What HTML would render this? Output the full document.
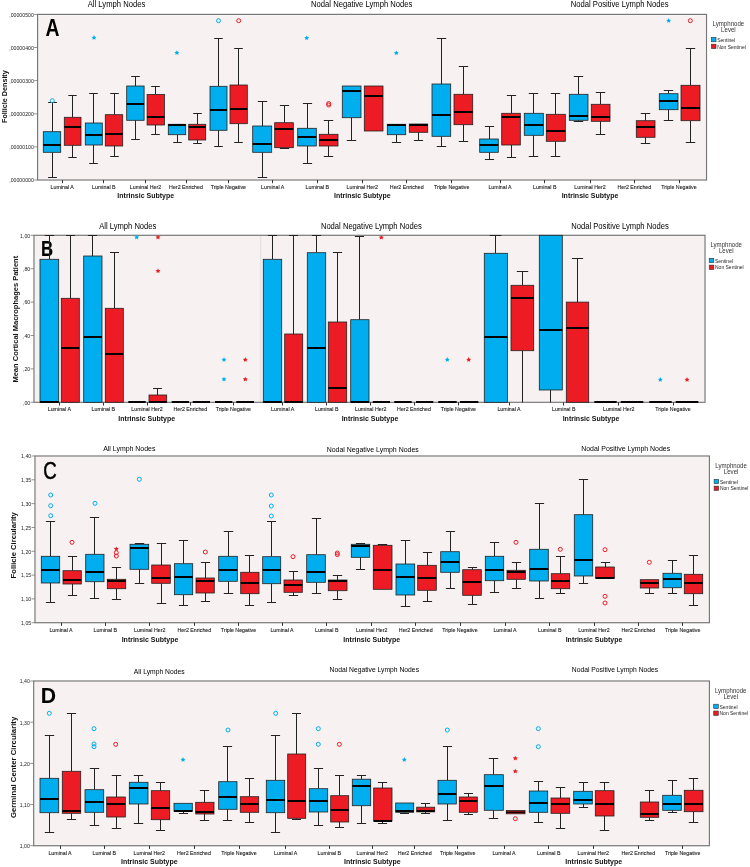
<!DOCTYPE html>
<html><head><meta charset="utf-8"><style>
html,body{margin:0;padding:0;background:#fff;}
svg{display:block;will-change:transform;font-family:"Liberation Sans",sans-serif;}
</style></head><body>
<svg width="750" height="867" viewBox="0 0 750 867">
<rect x="38.6" y="15.4" width="666.9" height="163.6" fill="#f7f1f1"/>
<text transform="translate(45.61,35.70) scale(0.824,1)" font-size="23.55" font-weight="bold" fill="#000" stroke="#000" stroke-width="0">A</text>
<rect x="37.6" y="14.4" width="668.9" height="165.6" fill="none" stroke="#777777" stroke-width="1.2"/>
<line x1="52.5" y1="102.5" x2="52.5" y2="131.7" stroke="#222222" stroke-width="1"/>
<line x1="48.1" y1="102.5" x2="56.9" y2="102.5" stroke="#222222" stroke-width="1"/>
<line x1="52.5" y1="152.3" x2="52.5" y2="177.5" stroke="#222222" stroke-width="1"/>
<line x1="48.1" y1="177.5" x2="56.9" y2="177.5" stroke="#222222" stroke-width="1"/>
<rect x="43.3" y="131.7" width="17.4" height="20.6" fill="#00aeef" stroke="#222222" stroke-width="0.8"/>
<line x1="43.3" y1="145.0" x2="60.7" y2="145.0" stroke="#000" stroke-width="2"/>
<line x1="72.5" y1="95.5" x2="72.5" y2="117.3" stroke="#222222" stroke-width="1"/>
<line x1="68.3" y1="95.5" x2="76.7" y2="95.5" stroke="#222222" stroke-width="1"/>
<line x1="72.5" y1="145.3" x2="72.5" y2="157.5" stroke="#222222" stroke-width="1"/>
<line x1="68.3" y1="157.5" x2="76.7" y2="157.5" stroke="#222222" stroke-width="1"/>
<rect x="64.3" y="117.3" width="16.7" height="28.0" fill="#ed1c24" stroke="#222222" stroke-width="0.8"/>
<line x1="64.3" y1="127.0" x2="81.0" y2="127.0" stroke="#000" stroke-width="2"/>
<line x1="93.5" y1="93.5" x2="93.5" y2="123.0" stroke="#222222" stroke-width="1"/>
<line x1="89.2" y1="93.5" x2="97.8" y2="93.5" stroke="#222222" stroke-width="1"/>
<line x1="93.5" y1="145.0" x2="93.5" y2="163.5" stroke="#222222" stroke-width="1"/>
<line x1="89.2" y1="163.5" x2="97.8" y2="163.5" stroke="#222222" stroke-width="1"/>
<rect x="85.3" y="123.0" width="17.0" height="22.0" fill="#00aeef" stroke="#222222" stroke-width="0.8"/>
<line x1="85.3" y1="135.0" x2="102.3" y2="135.0" stroke="#000" stroke-width="2"/>
<line x1="114.5" y1="93.5" x2="114.5" y2="114.7" stroke="#222222" stroke-width="1"/>
<line x1="110.2" y1="93.5" x2="118.8" y2="93.5" stroke="#222222" stroke-width="1"/>
<line x1="114.5" y1="146.0" x2="114.5" y2="156.5" stroke="#222222" stroke-width="1"/>
<line x1="110.2" y1="156.5" x2="118.8" y2="156.5" stroke="#222222" stroke-width="1"/>
<rect x="105.3" y="114.7" width="17.4" height="31.3" fill="#ed1c24" stroke="#222222" stroke-width="0.8"/>
<line x1="105.3" y1="134.0" x2="122.7" y2="134.0" stroke="#000" stroke-width="2"/>
<line x1="135.5" y1="76.5" x2="135.5" y2="86.0" stroke="#222222" stroke-width="1"/>
<line x1="131.2" y1="76.5" x2="139.8" y2="76.5" stroke="#222222" stroke-width="1"/>
<line x1="135.5" y1="120.3" x2="135.5" y2="139.5" stroke="#222222" stroke-width="1"/>
<line x1="131.2" y1="139.5" x2="139.8" y2="139.5" stroke="#222222" stroke-width="1"/>
<rect x="126.7" y="86.0" width="17.4" height="34.3" fill="#00aeef" stroke="#222222" stroke-width="0.8"/>
<line x1="126.7" y1="104.0" x2="144.1" y2="104.0" stroke="#000" stroke-width="2"/>
<line x1="155.5" y1="86.5" x2="155.5" y2="94.4" stroke="#222222" stroke-width="1"/>
<line x1="151.2" y1="86.5" x2="159.8" y2="86.5" stroke="#222222" stroke-width="1"/>
<line x1="155.5" y1="125.0" x2="155.5" y2="134.5" stroke="#222222" stroke-width="1"/>
<line x1="151.2" y1="134.5" x2="159.8" y2="134.5" stroke="#222222" stroke-width="1"/>
<rect x="147.1" y="94.4" width="17.3" height="30.6" fill="#ed1c24" stroke="#222222" stroke-width="0.8"/>
<line x1="147.1" y1="117.0" x2="164.4" y2="117.0" stroke="#000" stroke-width="2"/>
<line x1="177.5" y1="134.7" x2="177.5" y2="142.5" stroke="#222222" stroke-width="1"/>
<line x1="173.2" y1="142.5" x2="181.8" y2="142.5" stroke="#222222" stroke-width="1"/>
<rect x="168.3" y="124.3" width="17.4" height="10.4" fill="#00aeef" stroke="#222222" stroke-width="0.8"/>
<line x1="168.3" y1="125.0" x2="185.7" y2="125.0" stroke="#000" stroke-width="2"/>
<line x1="197.5" y1="113.5" x2="197.5" y2="124.3" stroke="#222222" stroke-width="1"/>
<line x1="193.2" y1="113.5" x2="201.8" y2="113.5" stroke="#222222" stroke-width="1"/>
<line x1="197.5" y1="140.0" x2="197.5" y2="143.5" stroke="#222222" stroke-width="1"/>
<line x1="193.2" y1="143.5" x2="201.8" y2="143.5" stroke="#222222" stroke-width="1"/>
<rect x="188.7" y="124.3" width="17.0" height="15.7" fill="#ed1c24" stroke="#222222" stroke-width="0.8"/>
<line x1="188.7" y1="127.0" x2="205.7" y2="127.0" stroke="#000" stroke-width="2"/>
<line x1="218.5" y1="38.5" x2="218.5" y2="86.3" stroke="#222222" stroke-width="1"/>
<line x1="214.2" y1="38.5" x2="222.8" y2="38.5" stroke="#222222" stroke-width="1"/>
<line x1="218.5" y1="130.3" x2="218.5" y2="146.5" stroke="#222222" stroke-width="1"/>
<line x1="214.2" y1="146.5" x2="222.8" y2="146.5" stroke="#222222" stroke-width="1"/>
<rect x="210.0" y="86.3" width="17.0" height="44.0" fill="#00aeef" stroke="#222222" stroke-width="0.8"/>
<line x1="210.0" y1="110.0" x2="227.0" y2="110.0" stroke="#000" stroke-width="2"/>
<line x1="238.5" y1="48.5" x2="238.5" y2="85.0" stroke="#222222" stroke-width="1"/>
<line x1="234.2" y1="48.5" x2="242.8" y2="48.5" stroke="#222222" stroke-width="1"/>
<line x1="238.5" y1="123.7" x2="238.5" y2="142.5" stroke="#222222" stroke-width="1"/>
<line x1="234.2" y1="142.5" x2="242.8" y2="142.5" stroke="#222222" stroke-width="1"/>
<rect x="230.0" y="85.0" width="17.3" height="38.7" fill="#ed1c24" stroke="#222222" stroke-width="0.8"/>
<line x1="230.0" y1="109.0" x2="247.3" y2="109.0" stroke="#000" stroke-width="2"/>
<line x1="262.5" y1="101.5" x2="262.5" y2="126.0" stroke="#222222" stroke-width="1"/>
<line x1="257.8" y1="101.5" x2="267.2" y2="101.5" stroke="#222222" stroke-width="1"/>
<line x1="262.5" y1="152.3" x2="262.5" y2="177.5" stroke="#222222" stroke-width="1"/>
<line x1="257.8" y1="177.5" x2="267.2" y2="177.5" stroke="#222222" stroke-width="1"/>
<rect x="252.7" y="126.0" width="19.0" height="26.3" fill="#00aeef" stroke="#222222" stroke-width="0.8"/>
<line x1="252.7" y1="144.0" x2="271.7" y2="144.0" stroke="#000" stroke-width="2"/>
<line x1="284.5" y1="105.5" x2="284.5" y2="122.7" stroke="#222222" stroke-width="1"/>
<line x1="279.9" y1="105.5" x2="289.1" y2="105.5" stroke="#222222" stroke-width="1"/>
<line x1="284.5" y1="147.7" x2="284.5" y2="148.5" stroke="#222222" stroke-width="1"/>
<line x1="279.9" y1="148.5" x2="289.1" y2="148.5" stroke="#222222" stroke-width="1"/>
<rect x="274.7" y="122.7" width="18.6" height="25.0" fill="#ed1c24" stroke="#222222" stroke-width="0.8"/>
<line x1="274.7" y1="129.0" x2="293.3" y2="129.0" stroke="#000" stroke-width="2"/>
<line x1="307.5" y1="103.5" x2="307.5" y2="128.3" stroke="#222222" stroke-width="1"/>
<line x1="302.9" y1="103.5" x2="312.1" y2="103.5" stroke="#222222" stroke-width="1"/>
<line x1="307.5" y1="146.0" x2="307.5" y2="163.5" stroke="#222222" stroke-width="1"/>
<line x1="302.9" y1="163.5" x2="312.1" y2="163.5" stroke="#222222" stroke-width="1"/>
<rect x="297.7" y="128.3" width="18.6" height="17.7" fill="#00aeef" stroke="#222222" stroke-width="0.8"/>
<line x1="297.7" y1="137.0" x2="316.3" y2="137.0" stroke="#000" stroke-width="2"/>
<line x1="328.5" y1="120.5" x2="328.5" y2="134.3" stroke="#222222" stroke-width="1"/>
<line x1="323.8" y1="120.5" x2="333.2" y2="120.5" stroke="#222222" stroke-width="1"/>
<line x1="328.5" y1="146.0" x2="328.5" y2="156.5" stroke="#222222" stroke-width="1"/>
<line x1="323.8" y1="156.5" x2="333.2" y2="156.5" stroke="#222222" stroke-width="1"/>
<rect x="319.3" y="134.3" width="18.7" height="11.7" fill="#ed1c24" stroke="#222222" stroke-width="0.8"/>
<line x1="319.3" y1="140.0" x2="338.0" y2="140.0" stroke="#000" stroke-width="2"/>
<line x1="351.5" y1="117.7" x2="351.5" y2="140.5" stroke="#222222" stroke-width="1"/>
<line x1="346.8" y1="140.5" x2="356.2" y2="140.5" stroke="#222222" stroke-width="1"/>
<rect x="342.3" y="86.0" width="18.7" height="31.7" fill="#00aeef" stroke="#222222" stroke-width="0.8"/>
<line x1="342.3" y1="91.0" x2="361.0" y2="91.0" stroke="#000" stroke-width="2"/>
<rect x="364.3" y="86.0" width="18.7" height="45.0" fill="#ed1c24" stroke="#222222" stroke-width="0.8"/>
<line x1="364.3" y1="96.0" x2="383.0" y2="96.0" stroke="#000" stroke-width="2"/>
<line x1="396.5" y1="134.7" x2="396.5" y2="142.5" stroke="#222222" stroke-width="1"/>
<line x1="391.9" y1="142.5" x2="401.1" y2="142.5" stroke="#222222" stroke-width="1"/>
<rect x="387.3" y="124.3" width="18.4" height="10.4" fill="#00aeef" stroke="#222222" stroke-width="0.8"/>
<line x1="387.3" y1="125.0" x2="405.7" y2="125.0" stroke="#000" stroke-width="2"/>
<line x1="418.5" y1="132.3" x2="418.5" y2="140.5" stroke="#222222" stroke-width="1"/>
<line x1="413.9" y1="140.5" x2="423.1" y2="140.5" stroke="#222222" stroke-width="1"/>
<rect x="409.3" y="124.0" width="18.4" height="8.3" fill="#ed1c24" stroke="#222222" stroke-width="0.8"/>
<line x1="409.3" y1="125.0" x2="427.7" y2="125.0" stroke="#000" stroke-width="2"/>
<line x1="441.5" y1="38.5" x2="441.5" y2="84.0" stroke="#222222" stroke-width="1"/>
<line x1="436.8" y1="38.5" x2="446.2" y2="38.5" stroke="#222222" stroke-width="1"/>
<line x1="441.5" y1="136.3" x2="441.5" y2="146.5" stroke="#222222" stroke-width="1"/>
<line x1="436.8" y1="146.5" x2="446.2" y2="146.5" stroke="#222222" stroke-width="1"/>
<rect x="432.0" y="84.0" width="18.7" height="52.3" fill="#00aeef" stroke="#222222" stroke-width="0.8"/>
<line x1="432.0" y1="115.0" x2="450.7" y2="115.0" stroke="#000" stroke-width="2"/>
<line x1="463.5" y1="66.5" x2="463.5" y2="94.3" stroke="#222222" stroke-width="1"/>
<line x1="458.8" y1="66.5" x2="468.2" y2="66.5" stroke="#222222" stroke-width="1"/>
<line x1="463.5" y1="124.7" x2="463.5" y2="141.5" stroke="#222222" stroke-width="1"/>
<line x1="458.8" y1="141.5" x2="468.2" y2="141.5" stroke="#222222" stroke-width="1"/>
<rect x="454.0" y="94.3" width="18.7" height="30.4" fill="#ed1c24" stroke="#222222" stroke-width="0.8"/>
<line x1="454.0" y1="112.0" x2="472.7" y2="112.0" stroke="#000" stroke-width="2"/>
<line x1="489.5" y1="126.5" x2="489.5" y2="139.0" stroke="#222222" stroke-width="1"/>
<line x1="484.9" y1="126.5" x2="494.1" y2="126.5" stroke="#222222" stroke-width="1"/>
<line x1="489.5" y1="152.3" x2="489.5" y2="159.5" stroke="#222222" stroke-width="1"/>
<line x1="484.9" y1="159.5" x2="494.1" y2="159.5" stroke="#222222" stroke-width="1"/>
<rect x="479.7" y="139.0" width="18.6" height="13.3" fill="#00aeef" stroke="#222222" stroke-width="0.8"/>
<line x1="479.7" y1="145.0" x2="498.3" y2="145.0" stroke="#000" stroke-width="2"/>
<line x1="511.5" y1="95.5" x2="511.5" y2="113.3" stroke="#222222" stroke-width="1"/>
<line x1="506.9" y1="95.5" x2="516.1" y2="95.5" stroke="#222222" stroke-width="1"/>
<line x1="511.5" y1="145.0" x2="511.5" y2="157.5" stroke="#222222" stroke-width="1"/>
<line x1="506.9" y1="157.5" x2="516.1" y2="157.5" stroke="#222222" stroke-width="1"/>
<rect x="501.7" y="113.3" width="18.6" height="31.7" fill="#ed1c24" stroke="#222222" stroke-width="0.8"/>
<line x1="501.7" y1="117.0" x2="520.3" y2="117.0" stroke="#000" stroke-width="2"/>
<line x1="533.5" y1="93.5" x2="533.5" y2="113.3" stroke="#222222" stroke-width="1"/>
<line x1="528.8" y1="93.5" x2="538.2" y2="93.5" stroke="#222222" stroke-width="1"/>
<line x1="533.5" y1="135.3" x2="533.5" y2="156.5" stroke="#222222" stroke-width="1"/>
<line x1="528.8" y1="156.5" x2="538.2" y2="156.5" stroke="#222222" stroke-width="1"/>
<rect x="524.3" y="113.3" width="19.0" height="22.0" fill="#00aeef" stroke="#222222" stroke-width="0.8"/>
<line x1="524.3" y1="125.0" x2="543.3" y2="125.0" stroke="#000" stroke-width="2"/>
<line x1="555.5" y1="93.5" x2="555.5" y2="114.3" stroke="#222222" stroke-width="1"/>
<line x1="550.8" y1="93.5" x2="560.2" y2="93.5" stroke="#222222" stroke-width="1"/>
<line x1="555.5" y1="141.3" x2="555.5" y2="156.5" stroke="#222222" stroke-width="1"/>
<line x1="550.8" y1="156.5" x2="560.2" y2="156.5" stroke="#222222" stroke-width="1"/>
<rect x="546.3" y="114.3" width="19.0" height="27.0" fill="#ed1c24" stroke="#222222" stroke-width="0.8"/>
<line x1="546.3" y1="131.0" x2="565.3" y2="131.0" stroke="#000" stroke-width="2"/>
<line x1="578.5" y1="76.5" x2="578.5" y2="94.3" stroke="#222222" stroke-width="1"/>
<line x1="573.8" y1="76.5" x2="583.2" y2="76.5" stroke="#222222" stroke-width="1"/>
<line x1="578.5" y1="120.3" x2="578.5" y2="121.5" stroke="#222222" stroke-width="1"/>
<line x1="573.8" y1="121.5" x2="583.2" y2="121.5" stroke="#222222" stroke-width="1"/>
<rect x="569.3" y="94.3" width="18.7" height="26.0" fill="#00aeef" stroke="#222222" stroke-width="0.8"/>
<line x1="569.3" y1="116.0" x2="588.0" y2="116.0" stroke="#000" stroke-width="2"/>
<line x1="600.5" y1="92.5" x2="600.5" y2="104.3" stroke="#222222" stroke-width="1"/>
<line x1="595.8" y1="92.5" x2="605.2" y2="92.5" stroke="#222222" stroke-width="1"/>
<line x1="600.5" y1="121.3" x2="600.5" y2="134.5" stroke="#222222" stroke-width="1"/>
<line x1="595.8" y1="134.5" x2="605.2" y2="134.5" stroke="#222222" stroke-width="1"/>
<rect x="591.3" y="104.3" width="18.7" height="17.0" fill="#ed1c24" stroke="#222222" stroke-width="0.8"/>
<line x1="591.3" y1="117.0" x2="610.0" y2="117.0" stroke="#000" stroke-width="2"/>
<line x1="645.5" y1="113.5" x2="645.5" y2="120.7" stroke="#222222" stroke-width="1"/>
<line x1="640.8" y1="113.5" x2="650.2" y2="113.5" stroke="#222222" stroke-width="1"/>
<line x1="645.5" y1="137.3" x2="645.5" y2="143.5" stroke="#222222" stroke-width="1"/>
<line x1="640.8" y1="143.5" x2="650.2" y2="143.5" stroke="#222222" stroke-width="1"/>
<rect x="636.3" y="120.7" width="18.7" height="16.6" fill="#ed1c24" stroke="#222222" stroke-width="0.8"/>
<line x1="636.3" y1="127.0" x2="655.0" y2="127.0" stroke="#000" stroke-width="2"/>
<line x1="668.5" y1="90.5" x2="668.5" y2="93.7" stroke="#222222" stroke-width="1"/>
<line x1="663.8" y1="90.5" x2="673.2" y2="90.5" stroke="#222222" stroke-width="1"/>
<line x1="668.5" y1="109.7" x2="668.5" y2="120.5" stroke="#222222" stroke-width="1"/>
<line x1="663.8" y1="120.5" x2="673.2" y2="120.5" stroke="#222222" stroke-width="1"/>
<rect x="659.3" y="93.7" width="18.7" height="16.0" fill="#00aeef" stroke="#222222" stroke-width="0.8"/>
<line x1="659.3" y1="101.0" x2="678.0" y2="101.0" stroke="#000" stroke-width="2"/>
<line x1="690.5" y1="48.5" x2="690.5" y2="85.3" stroke="#222222" stroke-width="1"/>
<line x1="685.8" y1="48.5" x2="695.2" y2="48.5" stroke="#222222" stroke-width="1"/>
<line x1="690.5" y1="120.7" x2="690.5" y2="142.5" stroke="#222222" stroke-width="1"/>
<line x1="685.8" y1="142.5" x2="695.2" y2="142.5" stroke="#222222" stroke-width="1"/>
<rect x="681.0" y="85.3" width="19.0" height="35.4" fill="#ed1c24" stroke="#222222" stroke-width="0.8"/>
<line x1="681.0" y1="108.0" x2="700.0" y2="108.0" stroke="#000" stroke-width="2"/>
<circle cx="52.3" cy="100.7" r="2.0" fill="none" stroke="#00aeef" stroke-width="1"/>
<polygon points="94.00,35.10 94.76,36.65 96.47,36.90 95.24,38.10 95.53,39.80 94.00,39.00 92.47,39.80 92.76,38.10 91.53,36.90 93.24,36.65" fill="#00aeef"/>
<polygon points="176.90,50.20 177.66,51.75 179.37,52.00 178.14,53.20 178.43,54.90 176.90,54.10 175.37,54.90 175.66,53.20 174.43,52.00 176.14,51.75" fill="#00aeef"/>
<circle cx="218.5" cy="20.7" r="2.0" fill="none" stroke="#00aeef" stroke-width="1"/>
<circle cx="238.7" cy="20.7" r="2.0" fill="none" stroke="#ed1c24" stroke-width="1"/>
<polygon points="306.70,35.40 307.46,36.95 309.17,37.20 307.94,38.40 308.23,40.10 306.70,39.30 305.17,40.10 305.46,38.40 304.23,37.20 305.94,36.95" fill="#00aeef"/>
<circle cx="328.7" cy="103.5" r="2.0" fill="none" stroke="#ed1c24" stroke-width="1"/>
<circle cx="328.7" cy="105.0" r="2.0" fill="none" stroke="#ed1c24" stroke-width="1"/>
<polygon points="396.30,50.40 397.06,51.95 398.77,52.20 397.54,53.40 397.83,55.10 396.30,54.30 394.77,55.10 395.06,53.40 393.83,52.20 395.54,51.95" fill="#00aeef"/>
<polygon points="668.70,18.10 669.46,19.65 671.17,19.90 669.94,21.10 670.23,22.80 668.70,22.00 667.17,22.80 667.46,21.10 666.23,19.90 667.94,19.65" fill="#00aeef"/>
<circle cx="690.3" cy="20.7" r="2.0" fill="none" stroke="#ed1c24" stroke-width="1"/>
<line x1="34.1" y1="14.4" x2="37.6" y2="14.4" stroke="#777777" stroke-width="0.8"/>
<text transform="translate(33.80,16.70) scale(1,1.12)" font-size="5.2" text-anchor="end" font-weight="normal" fill="#222" >,00000500</text>
<line x1="34.1" y1="47.5" x2="37.6" y2="47.5" stroke="#777777" stroke-width="0.8"/>
<text transform="translate(33.80,49.80) scale(1,1.12)" font-size="5.2" text-anchor="end" font-weight="normal" fill="#222" >,00000400</text>
<line x1="34.1" y1="80.6" x2="37.6" y2="80.6" stroke="#777777" stroke-width="0.8"/>
<text transform="translate(33.80,82.90) scale(1,1.12)" font-size="5.2" text-anchor="end" font-weight="normal" fill="#222" >,00000300</text>
<line x1="34.1" y1="113.8" x2="37.6" y2="113.8" stroke="#777777" stroke-width="0.8"/>
<text transform="translate(33.80,116.10) scale(1,1.12)" font-size="5.2" text-anchor="end" font-weight="normal" fill="#222" >,00000200</text>
<line x1="34.1" y1="146.9" x2="37.6" y2="146.9" stroke="#777777" stroke-width="0.8"/>
<text transform="translate(33.80,149.20) scale(1,1.12)" font-size="5.2" text-anchor="end" font-weight="normal" fill="#222" >,00000100</text>
<line x1="34.1" y1="180.0" x2="37.6" y2="180.0" stroke="#777777" stroke-width="0.8"/>
<text transform="translate(33.80,182.30) scale(1,1.12)" font-size="5.2" text-anchor="end" font-weight="normal" fill="#222" >,00000000</text>
<line x1="62.5" y1="180.0" x2="62.5" y2="183.2" stroke="#333" stroke-width="1"/>
<text transform="translate(62.20,189.00) scale(1,1.12)" font-size="5.3" text-anchor="middle" font-weight="normal" fill="#1a1a1a" stroke="#1a1a1a" stroke-width="0.1">Luminal A</text>
<line x1="103.5" y1="180.0" x2="103.5" y2="183.2" stroke="#333" stroke-width="1"/>
<text transform="translate(103.80,189.00) scale(1,1.12)" font-size="5.3" text-anchor="middle" font-weight="normal" fill="#1a1a1a" stroke="#1a1a1a" stroke-width="0.1">Luminal B</text>
<line x1="145.5" y1="180.0" x2="145.5" y2="183.2" stroke="#333" stroke-width="1"/>
<text transform="translate(145.50,189.00) scale(1,1.12)" font-size="5.3" text-anchor="middle" font-weight="normal" fill="#1a1a1a" stroke="#1a1a1a" stroke-width="0.1">Luminal Her2</text>
<line x1="186.5" y1="180.0" x2="186.5" y2="183.2" stroke="#333" stroke-width="1"/>
<text transform="translate(186.00,189.00) scale(1,1.12)" font-size="5.3" text-anchor="middle" font-weight="normal" fill="#1a1a1a" stroke="#1a1a1a" stroke-width="0.1">Her2 Enriched</text>
<line x1="228.5" y1="180.0" x2="228.5" y2="183.2" stroke="#333" stroke-width="1"/>
<text transform="translate(228.30,189.00) scale(1,1.12)" font-size="5.3" text-anchor="middle" font-weight="normal" fill="#1a1a1a" stroke="#1a1a1a" stroke-width="0.1">Triple Negative</text>
<line x1="272.5" y1="180.0" x2="272.5" y2="183.2" stroke="#333" stroke-width="1"/>
<text transform="translate(272.70,189.00) scale(1,1.12)" font-size="5.3" text-anchor="middle" font-weight="normal" fill="#1a1a1a" stroke="#1a1a1a" stroke-width="0.1">Luminal A</text>
<line x1="317.5" y1="180.0" x2="317.5" y2="183.2" stroke="#333" stroke-width="1"/>
<text transform="translate(317.30,189.00) scale(1,1.12)" font-size="5.3" text-anchor="middle" font-weight="normal" fill="#1a1a1a" stroke="#1a1a1a" stroke-width="0.1">Luminal B</text>
<line x1="362.5" y1="180.0" x2="362.5" y2="183.2" stroke="#333" stroke-width="1"/>
<text transform="translate(362.30,189.00) scale(1,1.12)" font-size="5.3" text-anchor="middle" font-weight="normal" fill="#1a1a1a" stroke="#1a1a1a" stroke-width="0.1">Luminal Her2</text>
<line x1="406.5" y1="180.0" x2="406.5" y2="183.2" stroke="#333" stroke-width="1"/>
<text transform="translate(406.70,189.00) scale(1,1.12)" font-size="5.3" text-anchor="middle" font-weight="normal" fill="#1a1a1a" stroke="#1a1a1a" stroke-width="0.1">Her2 Enriched</text>
<line x1="451.5" y1="180.0" x2="451.5" y2="183.2" stroke="#333" stroke-width="1"/>
<text transform="translate(451.70,189.00) scale(1,1.12)" font-size="5.3" text-anchor="middle" font-weight="normal" fill="#1a1a1a" stroke="#1a1a1a" stroke-width="0.1">Triple Negative</text>
<line x1="500.5" y1="180.0" x2="500.5" y2="183.2" stroke="#333" stroke-width="1"/>
<text transform="translate(500.00,189.00) scale(1,1.12)" font-size="5.3" text-anchor="middle" font-weight="normal" fill="#1a1a1a" stroke="#1a1a1a" stroke-width="0.1">Luminal A</text>
<line x1="544.5" y1="180.0" x2="544.5" y2="183.2" stroke="#333" stroke-width="1"/>
<text transform="translate(544.70,189.00) scale(1,1.12)" font-size="5.3" text-anchor="middle" font-weight="normal" fill="#1a1a1a" stroke="#1a1a1a" stroke-width="0.1">Luminal B</text>
<line x1="590.5" y1="180.0" x2="590.5" y2="183.2" stroke="#333" stroke-width="1"/>
<text transform="translate(590.00,189.00) scale(1,1.12)" font-size="5.3" text-anchor="middle" font-weight="normal" fill="#1a1a1a" stroke="#1a1a1a" stroke-width="0.1">Luminal Her2</text>
<line x1="634.5" y1="180.0" x2="634.5" y2="183.2" stroke="#333" stroke-width="1"/>
<text transform="translate(634.30,189.00) scale(1,1.12)" font-size="5.3" text-anchor="middle" font-weight="normal" fill="#1a1a1a" stroke="#1a1a1a" stroke-width="0.1">Her2 Enriched</text>
<line x1="679.5" y1="180.0" x2="679.5" y2="183.2" stroke="#333" stroke-width="1"/>
<text transform="translate(679.00,189.00) scale(1,1.12)" font-size="5.3" text-anchor="middle" font-weight="normal" fill="#1a1a1a" stroke="#1a1a1a" stroke-width="0.1">Triple Negative</text>
<text transform="translate(145.70,198.00) scale(1,1.1)" font-size="7.0" text-anchor="middle" font-weight="bold" fill="#111" >Intrinsic Subtype</text>
<text transform="translate(362.30,198.00) scale(1,1.1)" font-size="7.0" text-anchor="middle" font-weight="bold" fill="#111" >Intrinsic Subtype</text>
<text transform="translate(590.00,198.00) scale(1,1.1)" font-size="7.0" text-anchor="middle" font-weight="bold" fill="#111" >Intrinsic Subtype</text>
<text transform="translate(116.50,7.40) scale(1,1.12)" font-size="7.66" text-anchor="middle" font-weight="normal" fill="#000" >All Lymph Nodes</text>
<text transform="translate(361.70,7.20) scale(1,1.12)" font-size="7.66" text-anchor="middle" font-weight="normal" fill="#000" >Nodal Negative Lymph Nodes</text>
<text transform="translate(619.70,7.20) scale(1,1.12)" font-size="7.66" text-anchor="middle" font-weight="normal" fill="#000" >Nodal Positive Lymph Nodes</text>
<text x="0" y="0" font-size="7.2" font-weight="bold" text-anchor="middle" fill="#111" transform="translate(6.9,96.6) rotate(-90)">Follicle Density</text>
<text transform="translate(728.40,26.20) scale(1,1.15)" font-size="6.1" text-anchor="middle" font-weight="normal" fill="#333" >Lymphnode</text>
<text transform="translate(728.40,32.20) scale(1,1.15)" font-size="6.1" text-anchor="middle" font-weight="normal" fill="#333" >Level</text>
<rect x="711.4" y="37.4" width="4.6" height="4.4" fill="#00aeef" stroke="#333" stroke-width="0.6"/>
<rect x="711.4" y="44.2" width="4.6" height="4.4" fill="#ed1c24" stroke="#333" stroke-width="0.6"/>
<text transform="translate(717.20,41.90) scale(1,1.12)" font-size="5.0" text-anchor="start" font-weight="normal" fill="#222" >Sentinel</text>
<text transform="translate(717.20,48.50) scale(1,1.12)" font-size="5.0" text-anchor="start" font-weight="normal" fill="#222" >Non Sentinel</text>
<rect x="35" y="236.3" width="669" height="165.0" fill="#f7f1f1"/>
<line x1="260.7" y1="235.3" x2="260.7" y2="402.3" stroke="#d8d0d0" stroke-width="0.6"/>
<text transform="translate(41.07,256.00) scale(0.766,1)" font-size="22.09" font-weight="bold" fill="#000" stroke="#000" stroke-width="0">B</text>
<rect x="34" y="235.3" width="671" height="167.0" fill="none" stroke="#777777" stroke-width="1.2"/>
<line x1="49.5" y1="235.5" x2="49.5" y2="259.3" stroke="#222222" stroke-width="1"/>
<line x1="44.8" y1="235.5" x2="54.2" y2="235.5" stroke="#222222" stroke-width="1"/>
<rect x="40.0" y="259.3" width="18.7" height="143.0" fill="#00aeef" stroke="#222222" stroke-width="0.8"/>
<line x1="40.0" y1="402.0" x2="58.7" y2="402.0" stroke="#000" stroke-width="2"/>
<line x1="70.5" y1="235.5" x2="70.5" y2="298.3" stroke="#222222" stroke-width="1"/>
<line x1="66.0" y1="235.5" x2="75.0" y2="235.5" stroke="#222222" stroke-width="1"/>
<rect x="61.3" y="298.3" width="18.0" height="104.0" fill="#ed1c24" stroke="#222222" stroke-width="0.8"/>
<line x1="61.3" y1="348.0" x2="79.3" y2="348.0" stroke="#000" stroke-width="2"/>
<line x1="92.5" y1="235.5" x2="92.5" y2="256.0" stroke="#222222" stroke-width="1"/>
<line x1="87.9" y1="235.5" x2="97.1" y2="235.5" stroke="#222222" stroke-width="1"/>
<rect x="83.7" y="256.0" width="18.3" height="146.3" fill="#00aeef" stroke="#222222" stroke-width="0.8"/>
<line x1="83.7" y1="337.0" x2="102.0" y2="337.0" stroke="#000" stroke-width="2"/>
<line x1="114.5" y1="252.5" x2="114.5" y2="308.3" stroke="#222222" stroke-width="1"/>
<line x1="110.0" y1="252.5" x2="119.0" y2="252.5" stroke="#222222" stroke-width="1"/>
<rect x="105.3" y="308.3" width="18.0" height="94.0" fill="#ed1c24" stroke="#222222" stroke-width="0.8"/>
<line x1="105.3" y1="354.0" x2="123.3" y2="354.0" stroke="#000" stroke-width="2"/>
<line x1="128.3" y1="402.0" x2="145.7" y2="402.0" stroke="#000" stroke-width="2"/>
<line x1="157.5" y1="388.5" x2="157.5" y2="395.0" stroke="#222222" stroke-width="1"/>
<line x1="153.1" y1="388.5" x2="161.9" y2="388.5" stroke="#222222" stroke-width="1"/>
<rect x="149.0" y="395.0" width="17.7" height="7.3" fill="#ed1c24" stroke="#222222" stroke-width="0.8"/>
<line x1="149.0" y1="402.0" x2="166.7" y2="402.0" stroke="#000" stroke-width="2"/>
<line x1="171.7" y1="402.0" x2="189.0" y2="402.0" stroke="#000" stroke-width="2"/>
<line x1="192.7" y1="402.0" x2="210.0" y2="402.0" stroke="#000" stroke-width="2"/>
<line x1="215.0" y1="402.0" x2="232.3" y2="402.0" stroke="#000" stroke-width="2"/>
<line x1="236.3" y1="402.0" x2="254.0" y2="402.0" stroke="#000" stroke-width="2"/>
<line x1="272.5" y1="235.5" x2="272.5" y2="259.3" stroke="#222222" stroke-width="1"/>
<line x1="267.9" y1="235.5" x2="277.1" y2="235.5" stroke="#222222" stroke-width="1"/>
<rect x="263.3" y="259.3" width="18.4" height="143.0" fill="#00aeef" stroke="#222222" stroke-width="0.8"/>
<line x1="263.3" y1="402.0" x2="281.7" y2="402.0" stroke="#000" stroke-width="2"/>
<line x1="293.5" y1="235.5" x2="293.5" y2="334.0" stroke="#222222" stroke-width="1"/>
<line x1="289.0" y1="235.5" x2="298.0" y2="235.5" stroke="#222222" stroke-width="1"/>
<rect x="284.7" y="334.0" width="18.0" height="68.3" fill="#ed1c24" stroke="#222222" stroke-width="0.8"/>
<line x1="284.7" y1="402.0" x2="302.7" y2="402.0" stroke="#000" stroke-width="2"/>
<line x1="316.5" y1="235.5" x2="316.5" y2="252.7" stroke="#222222" stroke-width="1"/>
<line x1="311.9" y1="235.5" x2="321.1" y2="235.5" stroke="#222222" stroke-width="1"/>
<rect x="307.3" y="252.7" width="18.4" height="149.6" fill="#00aeef" stroke="#222222" stroke-width="0.8"/>
<line x1="307.3" y1="348.0" x2="325.7" y2="348.0" stroke="#000" stroke-width="2"/>
<line x1="337.5" y1="252.5" x2="337.5" y2="322.0" stroke="#222222" stroke-width="1"/>
<line x1="332.9" y1="252.5" x2="342.1" y2="252.5" stroke="#222222" stroke-width="1"/>
<rect x="328.3" y="322.0" width="18.4" height="80.3" fill="#ed1c24" stroke="#222222" stroke-width="0.8"/>
<line x1="328.3" y1="388.0" x2="346.7" y2="388.0" stroke="#000" stroke-width="2"/>
<line x1="359.5" y1="236.5" x2="359.5" y2="319.7" stroke="#222222" stroke-width="1"/>
<line x1="354.9" y1="236.5" x2="364.1" y2="236.5" stroke="#222222" stroke-width="1"/>
<rect x="350.7" y="319.7" width="18.3" height="82.6" fill="#00aeef" stroke="#222222" stroke-width="0.8"/>
<line x1="350.7" y1="402.0" x2="369.0" y2="402.0" stroke="#000" stroke-width="2"/>
<line x1="372.7" y1="402.0" x2="390.0" y2="402.0" stroke="#000" stroke-width="2"/>
<line x1="394.3" y1="402.0" x2="411.7" y2="402.0" stroke="#000" stroke-width="2"/>
<line x1="416.0" y1="402.0" x2="433.3" y2="402.0" stroke="#000" stroke-width="2"/>
<line x1="438.3" y1="402.0" x2="456.7" y2="402.0" stroke="#000" stroke-width="2"/>
<line x1="460.0" y1="402.0" x2="478.3" y2="402.0" stroke="#000" stroke-width="2"/>
<line x1="495.5" y1="235.5" x2="495.5" y2="253.3" stroke="#222222" stroke-width="1"/>
<line x1="489.7" y1="235.5" x2="501.3" y2="235.5" stroke="#222222" stroke-width="1"/>
<rect x="484.3" y="253.3" width="23.2" height="149.0" fill="#00aeef" stroke="#222222" stroke-width="0.8"/>
<line x1="484.3" y1="337.0" x2="507.5" y2="337.0" stroke="#000" stroke-width="2"/>
<line x1="522.5" y1="271.5" x2="522.5" y2="285.3" stroke="#222222" stroke-width="1"/>
<line x1="516.8" y1="271.5" x2="528.2" y2="271.5" stroke="#222222" stroke-width="1"/>
<line x1="522.5" y1="350.7" x2="522.5" y2="402.5" stroke="#222222" stroke-width="1"/>
<rect x="511.0" y="285.3" width="22.7" height="65.4" fill="#ed1c24" stroke="#222222" stroke-width="0.8"/>
<line x1="511.0" y1="298.0" x2="533.7" y2="298.0" stroke="#000" stroke-width="2"/>
<line x1="550.5" y1="390.0" x2="550.5" y2="402.5" stroke="#222222" stroke-width="1"/>
<rect x="539.3" y="235.3" width="23.0" height="154.7" fill="#00aeef" stroke="#222222" stroke-width="0.8"/>
<line x1="539.3" y1="330.0" x2="562.3" y2="330.0" stroke="#000" stroke-width="2"/>
<line x1="577.5" y1="258.5" x2="577.5" y2="302.1" stroke="#222222" stroke-width="1"/>
<line x1="571.9" y1="258.5" x2="583.1" y2="258.5" stroke="#222222" stroke-width="1"/>
<rect x="566.3" y="302.1" width="22.4" height="100.2" fill="#ed1c24" stroke="#222222" stroke-width="0.8"/>
<line x1="566.3" y1="328.0" x2="588.7" y2="328.0" stroke="#000" stroke-width="2"/>
<line x1="594.3" y1="402.0" x2="616.7" y2="402.0" stroke="#000" stroke-width="2"/>
<line x1="620.7" y1="402.0" x2="643.3" y2="402.0" stroke="#000" stroke-width="2"/>
<line x1="649.3" y1="402.0" x2="671.7" y2="402.0" stroke="#000" stroke-width="2"/>
<line x1="675.7" y1="402.0" x2="698.3" y2="402.0" stroke="#000" stroke-width="2"/>
<polygon points="136.70,234.70 137.46,236.25 139.17,236.50 137.94,237.70 138.23,239.40 136.70,238.60 135.17,239.40 135.46,237.70 134.23,236.50 135.94,236.25" fill="#00aeef"/>
<polygon points="158.00,234.70 158.76,236.25 160.47,236.50 159.24,237.70 159.53,239.40 158.00,238.60 156.47,239.40 156.76,237.70 155.53,236.50 157.24,236.25" fill="#ed1c24"/>
<polygon points="158.00,268.40 158.76,269.95 160.47,270.20 159.24,271.40 159.53,273.10 158.00,272.30 156.47,273.10 156.76,271.40 155.53,270.20 157.24,269.95" fill="#ed1c24"/>
<polygon points="224.00,357.10 224.76,358.65 226.47,358.90 225.24,360.10 225.53,361.80 224.00,361.00 222.47,361.80 222.76,360.10 221.53,358.90 223.24,358.65" fill="#00aeef"/>
<polygon points="224.00,376.70 224.76,378.25 226.47,378.50 225.24,379.70 225.53,381.40 224.00,380.60 222.47,381.40 222.76,379.70 221.53,378.50 223.24,378.25" fill="#00aeef"/>
<polygon points="245.30,357.10 246.06,358.65 247.77,358.90 246.54,360.10 246.83,361.80 245.30,361.00 243.77,361.80 244.06,360.10 242.83,358.90 244.54,358.65" fill="#ed1c24"/>
<polygon points="245.30,376.70 246.06,378.25 247.77,378.50 246.54,379.70 246.83,381.40 245.30,380.60 243.77,381.40 244.06,379.70 242.83,378.50 244.54,378.25" fill="#ed1c24"/>
<polygon points="381.30,234.90 382.06,236.45 383.77,236.70 382.54,237.90 382.83,239.60 381.30,238.80 379.77,239.60 380.06,237.90 378.83,236.70 380.54,236.45" fill="#ed1c24"/>
<polygon points="447.30,357.10 448.06,358.65 449.77,358.90 448.54,360.10 448.83,361.80 447.30,361.00 445.77,361.80 446.06,360.10 444.83,358.90 446.54,358.65" fill="#00aeef"/>
<polygon points="468.70,357.10 469.46,358.65 471.17,358.90 469.94,360.10 470.23,361.80 468.70,361.00 467.17,361.80 467.46,360.10 466.23,358.90 467.94,358.65" fill="#ed1c24"/>
<polygon points="660.30,377.10 661.06,378.65 662.77,378.90 661.54,380.10 661.83,381.80 660.30,381.00 658.77,381.80 659.06,380.10 657.83,378.90 659.54,378.65" fill="#00aeef"/>
<polygon points="687.00,377.10 687.76,378.65 689.47,378.90 688.24,380.10 688.53,381.80 687.00,381.00 685.47,381.80 685.76,380.10 684.53,378.90 686.24,378.65" fill="#ed1c24"/>
<line x1="30.5" y1="235.3" x2="34.0" y2="235.3" stroke="#777777" stroke-width="0.8"/>
<text transform="translate(30.20,237.60) scale(1,1.12)" font-size="5.2" text-anchor="end" font-weight="normal" fill="#222" >1,00</text>
<line x1="30.5" y1="268.7" x2="34.0" y2="268.7" stroke="#777777" stroke-width="0.8"/>
<text transform="translate(30.20,271.00) scale(1,1.12)" font-size="5.2" text-anchor="end" font-weight="normal" fill="#222" >,80</text>
<line x1="30.5" y1="302.1" x2="34.0" y2="302.1" stroke="#777777" stroke-width="0.8"/>
<text transform="translate(30.20,304.40) scale(1,1.12)" font-size="5.2" text-anchor="end" font-weight="normal" fill="#222" >,60</text>
<line x1="30.5" y1="335.5" x2="34.0" y2="335.5" stroke="#777777" stroke-width="0.8"/>
<text transform="translate(30.20,337.80) scale(1,1.12)" font-size="5.2" text-anchor="end" font-weight="normal" fill="#222" >,40</text>
<line x1="30.5" y1="368.9" x2="34.0" y2="368.9" stroke="#777777" stroke-width="0.8"/>
<text transform="translate(30.20,371.20) scale(1,1.12)" font-size="5.2" text-anchor="end" font-weight="normal" fill="#222" >,20</text>
<line x1="30.5" y1="402.3" x2="34.0" y2="402.3" stroke="#777777" stroke-width="0.8"/>
<text transform="translate(30.20,404.60) scale(1,1.12)" font-size="5.2" text-anchor="end" font-weight="normal" fill="#222" >,00</text>
<line x1="59.5" y1="402.3" x2="59.5" y2="405.5" stroke="#333" stroke-width="1"/>
<text transform="translate(59.30,411.30) scale(1,1.12)" font-size="5.3" text-anchor="middle" font-weight="normal" fill="#1a1a1a" stroke="#1a1a1a" stroke-width="0.1">Luminal A</text>
<line x1="103.5" y1="402.3" x2="103.5" y2="405.5" stroke="#333" stroke-width="1"/>
<text transform="translate(103.30,411.30) scale(1,1.12)" font-size="5.3" text-anchor="middle" font-weight="normal" fill="#1a1a1a" stroke="#1a1a1a" stroke-width="0.1">Luminal B</text>
<line x1="147.5" y1="402.3" x2="147.5" y2="405.5" stroke="#333" stroke-width="1"/>
<text transform="translate(147.00,411.30) scale(1,1.12)" font-size="5.3" text-anchor="middle" font-weight="normal" fill="#1a1a1a" stroke="#1a1a1a" stroke-width="0.1">Luminal Her2</text>
<line x1="190.5" y1="402.3" x2="190.5" y2="405.5" stroke="#333" stroke-width="1"/>
<text transform="translate(190.30,411.30) scale(1,1.12)" font-size="5.3" text-anchor="middle" font-weight="normal" fill="#1a1a1a" stroke="#1a1a1a" stroke-width="0.1">Her2 Enriched</text>
<line x1="233.5" y1="402.3" x2="233.5" y2="405.5" stroke="#333" stroke-width="1"/>
<text transform="translate(233.30,411.30) scale(1,1.12)" font-size="5.3" text-anchor="middle" font-weight="normal" fill="#1a1a1a" stroke="#1a1a1a" stroke-width="0.1">Triple Negative</text>
<line x1="282.5" y1="402.3" x2="282.5" y2="405.5" stroke="#333" stroke-width="1"/>
<text transform="translate(282.70,411.30) scale(1,1.12)" font-size="5.3" text-anchor="middle" font-weight="normal" fill="#1a1a1a" stroke="#1a1a1a" stroke-width="0.1">Luminal A</text>
<line x1="326.5" y1="402.3" x2="326.5" y2="405.5" stroke="#333" stroke-width="1"/>
<text transform="translate(326.70,411.30) scale(1,1.12)" font-size="5.3" text-anchor="middle" font-weight="normal" fill="#1a1a1a" stroke="#1a1a1a" stroke-width="0.1">Luminal B</text>
<line x1="370.5" y1="402.3" x2="370.5" y2="405.5" stroke="#333" stroke-width="1"/>
<text transform="translate(370.70,411.30) scale(1,1.12)" font-size="5.3" text-anchor="middle" font-weight="normal" fill="#1a1a1a" stroke="#1a1a1a" stroke-width="0.1">Luminal Her2</text>
<line x1="414.5" y1="402.3" x2="414.5" y2="405.5" stroke="#333" stroke-width="1"/>
<text transform="translate(414.00,411.30) scale(1,1.12)" font-size="5.3" text-anchor="middle" font-weight="normal" fill="#1a1a1a" stroke="#1a1a1a" stroke-width="0.1">Her2 Enriched</text>
<line x1="458.5" y1="402.3" x2="458.5" y2="405.5" stroke="#333" stroke-width="1"/>
<text transform="translate(458.30,411.30) scale(1,1.12)" font-size="5.3" text-anchor="middle" font-weight="normal" fill="#1a1a1a" stroke="#1a1a1a" stroke-width="0.1">Triple Negative</text>
<line x1="509.5" y1="402.3" x2="509.5" y2="405.5" stroke="#333" stroke-width="1"/>
<text transform="translate(509.00,411.30) scale(1,1.12)" font-size="5.3" text-anchor="middle" font-weight="normal" fill="#1a1a1a" stroke="#1a1a1a" stroke-width="0.1">Luminal A</text>
<line x1="563.5" y1="402.3" x2="563.5" y2="405.5" stroke="#333" stroke-width="1"/>
<text transform="translate(563.70,411.30) scale(1,1.12)" font-size="5.3" text-anchor="middle" font-weight="normal" fill="#1a1a1a" stroke="#1a1a1a" stroke-width="0.1">Luminal B</text>
<line x1="618.5" y1="402.3" x2="618.5" y2="405.5" stroke="#333" stroke-width="1"/>
<text transform="translate(618.70,411.30) scale(1,1.12)" font-size="5.3" text-anchor="middle" font-weight="normal" fill="#1a1a1a" stroke="#1a1a1a" stroke-width="0.1">Luminal Her2</text>
<line x1="673.5" y1="402.3" x2="673.5" y2="405.5" stroke="#333" stroke-width="1"/>
<text transform="translate(673.00,411.30) scale(1,1.12)" font-size="5.3" text-anchor="middle" font-weight="normal" fill="#1a1a1a" stroke="#1a1a1a" stroke-width="0.1">Triple Negative</text>
<text transform="translate(146.70,420.80) scale(1,1.1)" font-size="7.0" text-anchor="middle" font-weight="bold" fill="#111" >Intrinsic Subtype</text>
<text transform="translate(370.00,420.80) scale(1,1.1)" font-size="7.0" text-anchor="middle" font-weight="bold" fill="#111" >Intrinsic Subtype</text>
<text transform="translate(591.00,420.80) scale(1,1.1)" font-size="7.0" text-anchor="middle" font-weight="bold" fill="#111" >Intrinsic Subtype</text>
<text transform="translate(127.75,228.70) scale(1,1.12)" font-size="7.62" text-anchor="middle" font-weight="normal" fill="#000" >All Lymph Nodes</text>
<text transform="translate(371.30,228.70) scale(1,1.12)" font-size="7.62" text-anchor="middle" font-weight="normal" fill="#000" >Nodal Negative Lymph Nodes</text>
<text transform="translate(620.00,228.70) scale(1,1.12)" font-size="7.62" text-anchor="middle" font-weight="normal" fill="#000" >Nodal Positive Lymph Nodes</text>
<text x="0" y="0" font-size="7.5" font-weight="bold" text-anchor="middle" fill="#111" transform="translate(18.2,319.2) rotate(-90)">Mean Cortical Macrophages Patient</text>
<text transform="translate(726.20,247.10) scale(1,1.15)" font-size="6.1" text-anchor="middle" font-weight="normal" fill="#333" >Lymphnode</text>
<text transform="translate(726.20,253.10) scale(1,1.15)" font-size="6.1" text-anchor="middle" font-weight="normal" fill="#333" >Level</text>
<rect x="709.2" y="258.3" width="4.6" height="4.4" fill="#00aeef" stroke="#333" stroke-width="0.6"/>
<rect x="709.2" y="265.1" width="4.6" height="4.4" fill="#ed1c24" stroke="#333" stroke-width="0.6"/>
<text transform="translate(715.00,262.80) scale(1,1.12)" font-size="5.0" text-anchor="start" font-weight="normal" fill="#222" >Sentinel</text>
<text transform="translate(715.00,269.40) scale(1,1.12)" font-size="5.0" text-anchor="start" font-weight="normal" fill="#222" >Non Sentinel</text>
<rect x="36" y="457" width="672.4" height="164.70000000000005" fill="#f7f1f1"/>
<text transform="translate(43.15,479.09) scale(0.810,1)" font-size="23.06" font-weight="normal" fill="#000" stroke="#000" stroke-width="0.45">C</text>
<rect x="35" y="456" width="674.4" height="166.70000000000005" fill="none" stroke="#777777" stroke-width="1.2"/>
<line x1="50.5" y1="521.5" x2="50.5" y2="556.3" stroke="#222222" stroke-width="1"/>
<line x1="45.9" y1="521.5" x2="55.1" y2="521.5" stroke="#222222" stroke-width="1"/>
<line x1="50.5" y1="583.0" x2="50.5" y2="602.5" stroke="#222222" stroke-width="1"/>
<line x1="45.9" y1="602.5" x2="55.1" y2="602.5" stroke="#222222" stroke-width="1"/>
<rect x="41.3" y="556.3" width="18.4" height="26.7" fill="#00aeef" stroke="#222222" stroke-width="0.8"/>
<line x1="41.3" y1="570.0" x2="59.7" y2="570.0" stroke="#000" stroke-width="2"/>
<line x1="72.5" y1="556.5" x2="72.5" y2="570.7" stroke="#222222" stroke-width="1"/>
<line x1="67.9" y1="556.5" x2="77.1" y2="556.5" stroke="#222222" stroke-width="1"/>
<line x1="72.5" y1="584.0" x2="72.5" y2="595.5" stroke="#222222" stroke-width="1"/>
<line x1="67.9" y1="595.5" x2="77.1" y2="595.5" stroke="#222222" stroke-width="1"/>
<rect x="63.0" y="570.7" width="18.3" height="13.3" fill="#ed1c24" stroke="#222222" stroke-width="0.8"/>
<line x1="63.0" y1="580.0" x2="81.3" y2="580.0" stroke="#000" stroke-width="2"/>
<line x1="94.5" y1="517.5" x2="94.5" y2="554.3" stroke="#222222" stroke-width="1"/>
<line x1="89.9" y1="517.5" x2="99.1" y2="517.5" stroke="#222222" stroke-width="1"/>
<line x1="94.5" y1="581.7" x2="94.5" y2="598.5" stroke="#222222" stroke-width="1"/>
<line x1="89.9" y1="598.5" x2="99.1" y2="598.5" stroke="#222222" stroke-width="1"/>
<rect x="85.7" y="554.3" width="18.3" height="27.4" fill="#00aeef" stroke="#222222" stroke-width="0.8"/>
<line x1="85.7" y1="572.0" x2="104.0" y2="572.0" stroke="#000" stroke-width="2"/>
<line x1="116.5" y1="567.5" x2="116.5" y2="579.3" stroke="#222222" stroke-width="1"/>
<line x1="111.9" y1="567.5" x2="121.1" y2="567.5" stroke="#222222" stroke-width="1"/>
<line x1="116.5" y1="588.7" x2="116.5" y2="599.5" stroke="#222222" stroke-width="1"/>
<line x1="111.9" y1="599.5" x2="121.1" y2="599.5" stroke="#222222" stroke-width="1"/>
<rect x="107.3" y="579.3" width="18.4" height="9.4" fill="#ed1c24" stroke="#222222" stroke-width="0.8"/>
<line x1="107.3" y1="581.0" x2="125.7" y2="581.0" stroke="#000" stroke-width="2"/>
<line x1="139.5" y1="543.5" x2="139.5" y2="544.3" stroke="#222222" stroke-width="1"/>
<line x1="134.8" y1="543.5" x2="144.2" y2="543.5" stroke="#222222" stroke-width="1"/>
<line x1="139.5" y1="569.3" x2="139.5" y2="583.5" stroke="#222222" stroke-width="1"/>
<line x1="134.8" y1="583.5" x2="144.2" y2="583.5" stroke="#222222" stroke-width="1"/>
<rect x="130.0" y="544.3" width="18.7" height="25.0" fill="#00aeef" stroke="#222222" stroke-width="0.8"/>
<line x1="130.0" y1="548.0" x2="148.7" y2="548.0" stroke="#000" stroke-width="2"/>
<line x1="161.5" y1="543.5" x2="161.5" y2="565.0" stroke="#222222" stroke-width="1"/>
<line x1="156.8" y1="543.5" x2="166.2" y2="543.5" stroke="#222222" stroke-width="1"/>
<line x1="161.5" y1="583.3" x2="161.5" y2="603.5" stroke="#222222" stroke-width="1"/>
<line x1="156.8" y1="603.5" x2="166.2" y2="603.5" stroke="#222222" stroke-width="1"/>
<rect x="151.7" y="565.0" width="18.6" height="18.3" fill="#ed1c24" stroke="#222222" stroke-width="0.8"/>
<line x1="151.7" y1="578.0" x2="170.3" y2="578.0" stroke="#000" stroke-width="2"/>
<line x1="183.5" y1="540.5" x2="183.5" y2="563.7" stroke="#222222" stroke-width="1"/>
<line x1="178.9" y1="540.5" x2="188.1" y2="540.5" stroke="#222222" stroke-width="1"/>
<line x1="183.5" y1="594.7" x2="183.5" y2="605.5" stroke="#222222" stroke-width="1"/>
<line x1="178.9" y1="605.5" x2="188.1" y2="605.5" stroke="#222222" stroke-width="1"/>
<rect x="174.4" y="563.7" width="18.3" height="31.0" fill="#00aeef" stroke="#222222" stroke-width="0.8"/>
<line x1="174.4" y1="577.0" x2="192.7" y2="577.0" stroke="#000" stroke-width="2"/>
<line x1="205.5" y1="562.5" x2="205.5" y2="578.0" stroke="#222222" stroke-width="1"/>
<line x1="200.9" y1="562.5" x2="210.1" y2="562.5" stroke="#222222" stroke-width="1"/>
<line x1="205.5" y1="593.0" x2="205.5" y2="601.5" stroke="#222222" stroke-width="1"/>
<line x1="200.9" y1="601.5" x2="210.1" y2="601.5" stroke="#222222" stroke-width="1"/>
<rect x="196.0" y="578.0" width="18.3" height="15.0" fill="#ed1c24" stroke="#222222" stroke-width="0.8"/>
<line x1="196.0" y1="581.0" x2="214.3" y2="581.0" stroke="#000" stroke-width="2"/>
<line x1="228.5" y1="531.5" x2="228.5" y2="556.3" stroke="#222222" stroke-width="1"/>
<line x1="223.8" y1="531.5" x2="233.2" y2="531.5" stroke="#222222" stroke-width="1"/>
<line x1="228.5" y1="581.3" x2="228.5" y2="593.5" stroke="#222222" stroke-width="1"/>
<line x1="223.8" y1="593.5" x2="233.2" y2="593.5" stroke="#222222" stroke-width="1"/>
<rect x="218.7" y="556.3" width="18.6" height="25.0" fill="#00aeef" stroke="#222222" stroke-width="0.8"/>
<line x1="218.7" y1="570.0" x2="237.3" y2="570.0" stroke="#000" stroke-width="2"/>
<line x1="249.5" y1="555.5" x2="249.5" y2="572.3" stroke="#222222" stroke-width="1"/>
<line x1="244.9" y1="555.5" x2="254.1" y2="555.5" stroke="#222222" stroke-width="1"/>
<line x1="249.5" y1="593.7" x2="249.5" y2="605.5" stroke="#222222" stroke-width="1"/>
<line x1="244.9" y1="605.5" x2="254.1" y2="605.5" stroke="#222222" stroke-width="1"/>
<rect x="240.7" y="572.3" width="18.3" height="21.4" fill="#ed1c24" stroke="#222222" stroke-width="0.8"/>
<line x1="240.7" y1="583.0" x2="259.0" y2="583.0" stroke="#000" stroke-width="2"/>
<line x1="271.5" y1="521.5" x2="271.5" y2="556.7" stroke="#222222" stroke-width="1"/>
<line x1="267.0" y1="521.5" x2="276.0" y2="521.5" stroke="#222222" stroke-width="1"/>
<line x1="271.5" y1="583.7" x2="271.5" y2="602.5" stroke="#222222" stroke-width="1"/>
<line x1="267.0" y1="602.5" x2="276.0" y2="602.5" stroke="#222222" stroke-width="1"/>
<rect x="262.7" y="556.7" width="18.0" height="27.0" fill="#00aeef" stroke="#222222" stroke-width="0.8"/>
<line x1="262.7" y1="570.0" x2="280.7" y2="570.0" stroke="#000" stroke-width="2"/>
<line x1="293.5" y1="571.5" x2="293.5" y2="580.0" stroke="#222222" stroke-width="1"/>
<line x1="288.9" y1="571.5" x2="298.1" y2="571.5" stroke="#222222" stroke-width="1"/>
<line x1="293.5" y1="592.3" x2="293.5" y2="595.5" stroke="#222222" stroke-width="1"/>
<line x1="288.9" y1="595.5" x2="298.1" y2="595.5" stroke="#222222" stroke-width="1"/>
<rect x="284.0" y="580.0" width="18.3" height="12.3" fill="#ed1c24" stroke="#222222" stroke-width="0.8"/>
<line x1="284.0" y1="585.0" x2="302.3" y2="585.0" stroke="#000" stroke-width="2"/>
<line x1="316.5" y1="518.5" x2="316.5" y2="554.7" stroke="#222222" stroke-width="1"/>
<line x1="311.9" y1="518.5" x2="321.1" y2="518.5" stroke="#222222" stroke-width="1"/>
<line x1="316.5" y1="582.3" x2="316.5" y2="593.5" stroke="#222222" stroke-width="1"/>
<line x1="311.9" y1="593.5" x2="321.1" y2="593.5" stroke="#222222" stroke-width="1"/>
<rect x="306.7" y="554.7" width="18.6" height="27.6" fill="#00aeef" stroke="#222222" stroke-width="0.8"/>
<line x1="306.7" y1="572.0" x2="325.3" y2="572.0" stroke="#000" stroke-width="2"/>
<line x1="337.5" y1="575.5" x2="337.5" y2="580.0" stroke="#222222" stroke-width="1"/>
<line x1="332.8" y1="575.5" x2="342.2" y2="575.5" stroke="#222222" stroke-width="1"/>
<line x1="337.5" y1="590.7" x2="337.5" y2="599.5" stroke="#222222" stroke-width="1"/>
<line x1="332.8" y1="599.5" x2="342.2" y2="599.5" stroke="#222222" stroke-width="1"/>
<rect x="328.3" y="580.0" width="18.7" height="10.7" fill="#ed1c24" stroke="#222222" stroke-width="0.8"/>
<line x1="328.3" y1="581.0" x2="347.0" y2="581.0" stroke="#000" stroke-width="2"/>
<line x1="360.5" y1="543.5" x2="360.5" y2="544.3" stroke="#222222" stroke-width="1"/>
<line x1="355.9" y1="543.5" x2="365.1" y2="543.5" stroke="#222222" stroke-width="1"/>
<line x1="360.5" y1="557.3" x2="360.5" y2="569.5" stroke="#222222" stroke-width="1"/>
<line x1="355.9" y1="569.5" x2="365.1" y2="569.5" stroke="#222222" stroke-width="1"/>
<rect x="351.3" y="544.3" width="18.4" height="13.0" fill="#00aeef" stroke="#222222" stroke-width="0.8"/>
<line x1="351.3" y1="546.0" x2="369.7" y2="546.0" stroke="#000" stroke-width="2"/>
<line x1="382.5" y1="544.5" x2="382.5" y2="545.3" stroke="#222222" stroke-width="1"/>
<line x1="377.8" y1="544.5" x2="387.2" y2="544.5" stroke="#222222" stroke-width="1"/>
<rect x="373.3" y="545.3" width="18.7" height="44.0" fill="#ed1c24" stroke="#222222" stroke-width="0.8"/>
<line x1="373.3" y1="570.0" x2="392.0" y2="570.0" stroke="#000" stroke-width="2"/>
<line x1="405.5" y1="540.5" x2="405.5" y2="564.0" stroke="#222222" stroke-width="1"/>
<line x1="400.8" y1="540.5" x2="410.2" y2="540.5" stroke="#222222" stroke-width="1"/>
<line x1="405.5" y1="595.0" x2="405.5" y2="606.5" stroke="#222222" stroke-width="1"/>
<line x1="400.8" y1="606.5" x2="410.2" y2="606.5" stroke="#222222" stroke-width="1"/>
<rect x="396.0" y="564.0" width="18.7" height="31.0" fill="#00aeef" stroke="#222222" stroke-width="0.8"/>
<line x1="396.0" y1="577.0" x2="414.7" y2="577.0" stroke="#000" stroke-width="2"/>
<line x1="427.5" y1="552.5" x2="427.5" y2="565.3" stroke="#222222" stroke-width="1"/>
<line x1="422.9" y1="552.5" x2="432.1" y2="552.5" stroke="#222222" stroke-width="1"/>
<line x1="427.5" y1="590.3" x2="427.5" y2="601.5" stroke="#222222" stroke-width="1"/>
<line x1="422.9" y1="601.5" x2="432.1" y2="601.5" stroke="#222222" stroke-width="1"/>
<rect x="417.7" y="565.3" width="18.6" height="25.0" fill="#ed1c24" stroke="#222222" stroke-width="0.8"/>
<line x1="417.7" y1="578.0" x2="436.3" y2="578.0" stroke="#000" stroke-width="2"/>
<line x1="450.5" y1="531.5" x2="450.5" y2="551.7" stroke="#222222" stroke-width="1"/>
<line x1="445.9" y1="531.5" x2="455.1" y2="531.5" stroke="#222222" stroke-width="1"/>
<line x1="450.5" y1="572.3" x2="450.5" y2="588.5" stroke="#222222" stroke-width="1"/>
<line x1="445.9" y1="588.5" x2="455.1" y2="588.5" stroke="#222222" stroke-width="1"/>
<rect x="440.7" y="551.7" width="18.6" height="20.6" fill="#00aeef" stroke="#222222" stroke-width="0.8"/>
<line x1="440.7" y1="562.0" x2="459.3" y2="562.0" stroke="#000" stroke-width="2"/>
<line x1="472.5" y1="567.5" x2="472.5" y2="569.7" stroke="#222222" stroke-width="1"/>
<line x1="467.9" y1="567.5" x2="477.1" y2="567.5" stroke="#222222" stroke-width="1"/>
<line x1="472.5" y1="595.3" x2="472.5" y2="604.5" stroke="#222222" stroke-width="1"/>
<line x1="467.9" y1="604.5" x2="477.1" y2="604.5" stroke="#222222" stroke-width="1"/>
<rect x="462.7" y="569.7" width="18.6" height="25.6" fill="#ed1c24" stroke="#222222" stroke-width="0.8"/>
<line x1="462.7" y1="582.0" x2="481.3" y2="582.0" stroke="#000" stroke-width="2"/>
<line x1="494.5" y1="542.5" x2="494.5" y2="556.3" stroke="#222222" stroke-width="1"/>
<line x1="489.9" y1="542.5" x2="499.1" y2="542.5" stroke="#222222" stroke-width="1"/>
<line x1="494.5" y1="580.7" x2="494.5" y2="592.5" stroke="#222222" stroke-width="1"/>
<line x1="489.9" y1="592.5" x2="499.1" y2="592.5" stroke="#222222" stroke-width="1"/>
<rect x="485.3" y="556.3" width="18.4" height="24.4" fill="#00aeef" stroke="#222222" stroke-width="0.8"/>
<line x1="485.3" y1="570.0" x2="503.7" y2="570.0" stroke="#000" stroke-width="2"/>
<line x1="516.5" y1="562.5" x2="516.5" y2="570.3" stroke="#222222" stroke-width="1"/>
<line x1="511.9" y1="562.5" x2="521.1" y2="562.5" stroke="#222222" stroke-width="1"/>
<line x1="516.5" y1="579.3" x2="516.5" y2="588.5" stroke="#222222" stroke-width="1"/>
<line x1="511.9" y1="588.5" x2="521.1" y2="588.5" stroke="#222222" stroke-width="1"/>
<rect x="507.0" y="570.3" width="18.3" height="9.0" fill="#ed1c24" stroke="#222222" stroke-width="0.8"/>
<line x1="507.0" y1="572.0" x2="525.3" y2="572.0" stroke="#000" stroke-width="2"/>
<line x1="539.5" y1="503.5" x2="539.5" y2="549.3" stroke="#222222" stroke-width="1"/>
<line x1="534.9" y1="503.5" x2="544.1" y2="503.5" stroke="#222222" stroke-width="1"/>
<line x1="539.5" y1="581.0" x2="539.5" y2="598.5" stroke="#222222" stroke-width="1"/>
<line x1="534.9" y1="598.5" x2="544.1" y2="598.5" stroke="#222222" stroke-width="1"/>
<rect x="529.7" y="549.3" width="18.6" height="31.7" fill="#00aeef" stroke="#222222" stroke-width="0.8"/>
<line x1="529.7" y1="569.0" x2="548.3" y2="569.0" stroke="#000" stroke-width="2"/>
<line x1="560.5" y1="556.5" x2="560.5" y2="573.7" stroke="#222222" stroke-width="1"/>
<line x1="555.9" y1="556.5" x2="565.1" y2="556.5" stroke="#222222" stroke-width="1"/>
<line x1="560.5" y1="588.7" x2="560.5" y2="593.5" stroke="#222222" stroke-width="1"/>
<line x1="555.9" y1="593.5" x2="565.1" y2="593.5" stroke="#222222" stroke-width="1"/>
<rect x="551.3" y="573.7" width="18.4" height="15.0" fill="#ed1c24" stroke="#222222" stroke-width="0.8"/>
<line x1="551.3" y1="581.0" x2="569.7" y2="581.0" stroke="#000" stroke-width="2"/>
<line x1="583.5" y1="479.5" x2="583.5" y2="514.7" stroke="#222222" stroke-width="1"/>
<line x1="578.9" y1="479.5" x2="588.1" y2="479.5" stroke="#222222" stroke-width="1"/>
<line x1="583.5" y1="576.0" x2="583.5" y2="583.5" stroke="#222222" stroke-width="1"/>
<line x1="578.9" y1="583.5" x2="588.1" y2="583.5" stroke="#222222" stroke-width="1"/>
<rect x="574.3" y="514.7" width="18.4" height="61.3" fill="#00aeef" stroke="#222222" stroke-width="0.8"/>
<line x1="574.3" y1="560.0" x2="592.7" y2="560.0" stroke="#000" stroke-width="2"/>
<line x1="605.5" y1="562.5" x2="605.5" y2="567.0" stroke="#222222" stroke-width="1"/>
<line x1="600.9" y1="562.5" x2="610.1" y2="562.5" stroke="#222222" stroke-width="1"/>
<rect x="595.7" y="567.0" width="18.6" height="11.3" fill="#ed1c24" stroke="#222222" stroke-width="0.8"/>
<line x1="595.7" y1="578.0" x2="614.3" y2="578.0" stroke="#000" stroke-width="2"/>
<line x1="649.5" y1="588.0" x2="649.5" y2="593.5" stroke="#222222" stroke-width="1"/>
<line x1="644.9" y1="593.5" x2="654.1" y2="593.5" stroke="#222222" stroke-width="1"/>
<rect x="640.3" y="579.7" width="18.4" height="8.3" fill="#ed1c24" stroke="#222222" stroke-width="0.8"/>
<line x1="640.3" y1="583.0" x2="658.7" y2="583.0" stroke="#000" stroke-width="2"/>
<line x1="672.5" y1="560.5" x2="672.5" y2="573.3" stroke="#222222" stroke-width="1"/>
<line x1="667.9" y1="560.5" x2="677.1" y2="560.5" stroke="#222222" stroke-width="1"/>
<line x1="672.5" y1="587.7" x2="672.5" y2="593.5" stroke="#222222" stroke-width="1"/>
<line x1="667.9" y1="593.5" x2="677.1" y2="593.5" stroke="#222222" stroke-width="1"/>
<rect x="663.0" y="573.3" width="18.3" height="14.4" fill="#00aeef" stroke="#222222" stroke-width="0.8"/>
<line x1="663.0" y1="579.0" x2="681.3" y2="579.0" stroke="#000" stroke-width="2"/>
<line x1="693.5" y1="555.5" x2="693.5" y2="574.3" stroke="#222222" stroke-width="1"/>
<line x1="688.9" y1="555.5" x2="698.1" y2="555.5" stroke="#222222" stroke-width="1"/>
<line x1="693.5" y1="593.7" x2="693.5" y2="605.5" stroke="#222222" stroke-width="1"/>
<line x1="688.9" y1="605.5" x2="698.1" y2="605.5" stroke="#222222" stroke-width="1"/>
<rect x="684.3" y="574.3" width="18.4" height="19.4" fill="#ed1c24" stroke="#222222" stroke-width="0.8"/>
<line x1="684.3" y1="583.0" x2="702.7" y2="583.0" stroke="#000" stroke-width="2"/>
<circle cx="50.7" cy="495.0" r="2.0" fill="none" stroke="#00aeef" stroke-width="1"/>
<circle cx="50.7" cy="505.7" r="2.0" fill="none" stroke="#00aeef" stroke-width="1"/>
<circle cx="50.7" cy="515.7" r="2.0" fill="none" stroke="#00aeef" stroke-width="1"/>
<circle cx="72.0" cy="542.3" r="2.0" fill="none" stroke="#ed1c24" stroke-width="1"/>
<circle cx="95.0" cy="503.3" r="2.0" fill="none" stroke="#00aeef" stroke-width="1"/>
<polygon points="116.30,546.40 117.06,547.95 118.77,548.20 117.54,549.40 117.83,551.10 116.30,550.30 114.77,551.10 115.06,549.40 113.83,548.20 115.54,547.95" fill="#ed1c24"/>
<circle cx="116.3" cy="552.7" r="2.0" fill="none" stroke="#ed1c24" stroke-width="1"/>
<circle cx="116.3" cy="556.0" r="2.0" fill="none" stroke="#ed1c24" stroke-width="1"/>
<circle cx="139.3" cy="479.3" r="2.0" fill="none" stroke="#00aeef" stroke-width="1"/>
<circle cx="205.3" cy="552.0" r="2.0" fill="none" stroke="#ed1c24" stroke-width="1"/>
<circle cx="271.3" cy="495.0" r="2.0" fill="none" stroke="#00aeef" stroke-width="1"/>
<circle cx="271.3" cy="506.0" r="2.0" fill="none" stroke="#00aeef" stroke-width="1"/>
<circle cx="271.3" cy="516.0" r="2.0" fill="none" stroke="#00aeef" stroke-width="1"/>
<circle cx="293.0" cy="556.7" r="2.0" fill="none" stroke="#ed1c24" stroke-width="1"/>
<circle cx="337.3" cy="553.0" r="2.0" fill="none" stroke="#ed1c24" stroke-width="1"/>
<circle cx="337.3" cy="554.6" r="2.0" fill="none" stroke="#ed1c24" stroke-width="1"/>
<circle cx="516.0" cy="542.3" r="2.0" fill="none" stroke="#ed1c24" stroke-width="1"/>
<circle cx="560.3" cy="549.3" r="2.0" fill="none" stroke="#ed1c24" stroke-width="1"/>
<circle cx="605.0" cy="549.7" r="2.0" fill="none" stroke="#ed1c24" stroke-width="1"/>
<circle cx="605.0" cy="596.3" r="2.0" fill="none" stroke="#ed1c24" stroke-width="1"/>
<circle cx="605.0" cy="603.0" r="2.0" fill="none" stroke="#ed1c24" stroke-width="1"/>
<circle cx="649.3" cy="562.3" r="2.0" fill="none" stroke="#ed1c24" stroke-width="1"/>
<line x1="31.5" y1="456.0" x2="35.0" y2="456.0" stroke="#777777" stroke-width="0.8"/>
<text transform="translate(31.20,458.30) scale(1,1.12)" font-size="5.2" text-anchor="end" font-weight="normal" fill="#222" >1,40</text>
<line x1="31.5" y1="479.8" x2="35.0" y2="479.8" stroke="#777777" stroke-width="0.8"/>
<text transform="translate(31.20,482.10) scale(1,1.12)" font-size="5.2" text-anchor="end" font-weight="normal" fill="#222" >1,35</text>
<line x1="31.5" y1="503.6" x2="35.0" y2="503.6" stroke="#777777" stroke-width="0.8"/>
<text transform="translate(31.20,505.90) scale(1,1.12)" font-size="5.2" text-anchor="end" font-weight="normal" fill="#222" >1,30</text>
<line x1="31.5" y1="527.5" x2="35.0" y2="527.5" stroke="#777777" stroke-width="0.8"/>
<text transform="translate(31.20,529.80) scale(1,1.12)" font-size="5.2" text-anchor="end" font-weight="normal" fill="#222" >1,25</text>
<line x1="31.5" y1="551.3" x2="35.0" y2="551.3" stroke="#777777" stroke-width="0.8"/>
<text transform="translate(31.20,553.60) scale(1,1.12)" font-size="5.2" text-anchor="end" font-weight="normal" fill="#222" >1,20</text>
<line x1="31.5" y1="575.1" x2="35.0" y2="575.1" stroke="#777777" stroke-width="0.8"/>
<text transform="translate(31.20,577.40) scale(1,1.12)" font-size="5.2" text-anchor="end" font-weight="normal" fill="#222" >1,15</text>
<line x1="31.5" y1="598.9" x2="35.0" y2="598.9" stroke="#777777" stroke-width="0.8"/>
<text transform="translate(31.20,601.20) scale(1,1.12)" font-size="5.2" text-anchor="end" font-weight="normal" fill="#222" >1,10</text>
<line x1="31.5" y1="622.7" x2="35.0" y2="622.7" stroke="#777777" stroke-width="0.8"/>
<text transform="translate(31.20,625.00) scale(1,1.12)" font-size="5.2" text-anchor="end" font-weight="normal" fill="#222" >1,05</text>
<line x1="61.5" y1="622.7" x2="61.5" y2="625.9" stroke="#333" stroke-width="1"/>
<text transform="translate(61.00,631.70) scale(1,1.12)" font-size="5.3" text-anchor="middle" font-weight="normal" fill="#1a1a1a" stroke="#1a1a1a" stroke-width="0.1">Luminal A</text>
<line x1="105.5" y1="622.7" x2="105.5" y2="625.9" stroke="#333" stroke-width="1"/>
<text transform="translate(105.30,631.70) scale(1,1.12)" font-size="5.3" text-anchor="middle" font-weight="normal" fill="#1a1a1a" stroke="#1a1a1a" stroke-width="0.1">Luminal B</text>
<line x1="149.5" y1="622.7" x2="149.5" y2="625.9" stroke="#333" stroke-width="1"/>
<text transform="translate(149.70,631.70) scale(1,1.12)" font-size="5.3" text-anchor="middle" font-weight="normal" fill="#1a1a1a" stroke="#1a1a1a" stroke-width="0.1">Luminal Her2</text>
<line x1="194.5" y1="622.7" x2="194.5" y2="625.9" stroke="#333" stroke-width="1"/>
<text transform="translate(194.30,631.70) scale(1,1.12)" font-size="5.3" text-anchor="middle" font-weight="normal" fill="#1a1a1a" stroke="#1a1a1a" stroke-width="0.1">Her2 Enriched</text>
<line x1="238.5" y1="622.7" x2="238.5" y2="625.9" stroke="#333" stroke-width="1"/>
<text transform="translate(238.50,631.70) scale(1,1.12)" font-size="5.3" text-anchor="middle" font-weight="normal" fill="#1a1a1a" stroke="#1a1a1a" stroke-width="0.1">Triple Negative</text>
<line x1="282.5" y1="622.7" x2="282.5" y2="625.9" stroke="#333" stroke-width="1"/>
<text transform="translate(282.00,631.70) scale(1,1.12)" font-size="5.3" text-anchor="middle" font-weight="normal" fill="#1a1a1a" stroke="#1a1a1a" stroke-width="0.1">Luminal A</text>
<line x1="326.5" y1="622.7" x2="326.5" y2="625.9" stroke="#333" stroke-width="1"/>
<text transform="translate(326.70,631.70) scale(1,1.12)" font-size="5.3" text-anchor="middle" font-weight="normal" fill="#1a1a1a" stroke="#1a1a1a" stroke-width="0.1">Luminal B</text>
<line x1="371.5" y1="622.7" x2="371.5" y2="625.9" stroke="#333" stroke-width="1"/>
<text transform="translate(371.70,631.70) scale(1,1.12)" font-size="5.3" text-anchor="middle" font-weight="normal" fill="#1a1a1a" stroke="#1a1a1a" stroke-width="0.1">Luminal Her2</text>
<line x1="415.5" y1="622.7" x2="415.5" y2="625.9" stroke="#333" stroke-width="1"/>
<text transform="translate(415.70,631.70) scale(1,1.12)" font-size="5.3" text-anchor="middle" font-weight="normal" fill="#1a1a1a" stroke="#1a1a1a" stroke-width="0.1">Her2 Enriched</text>
<line x1="460.5" y1="622.7" x2="460.5" y2="625.9" stroke="#333" stroke-width="1"/>
<text transform="translate(460.00,631.70) scale(1,1.12)" font-size="5.3" text-anchor="middle" font-weight="normal" fill="#1a1a1a" stroke="#1a1a1a" stroke-width="0.1">Triple Negative</text>
<line x1="505.5" y1="622.7" x2="505.5" y2="625.9" stroke="#333" stroke-width="1"/>
<text transform="translate(505.00,631.70) scale(1,1.12)" font-size="5.3" text-anchor="middle" font-weight="normal" fill="#1a1a1a" stroke="#1a1a1a" stroke-width="0.1">Luminal A</text>
<line x1="549.5" y1="622.7" x2="549.5" y2="625.9" stroke="#333" stroke-width="1"/>
<text transform="translate(549.70,631.70) scale(1,1.12)" font-size="5.3" text-anchor="middle" font-weight="normal" fill="#1a1a1a" stroke="#1a1a1a" stroke-width="0.1">Luminal B</text>
<line x1="594.5" y1="622.7" x2="594.5" y2="625.9" stroke="#333" stroke-width="1"/>
<text transform="translate(594.00,631.70) scale(1,1.12)" font-size="5.3" text-anchor="middle" font-weight="normal" fill="#1a1a1a" stroke="#1a1a1a" stroke-width="0.1">Luminal Her2</text>
<line x1="638.5" y1="622.7" x2="638.5" y2="625.9" stroke="#333" stroke-width="1"/>
<text transform="translate(638.30,631.70) scale(1,1.12)" font-size="5.3" text-anchor="middle" font-weight="normal" fill="#1a1a1a" stroke="#1a1a1a" stroke-width="0.1">Her2 Enriched</text>
<line x1="682.5" y1="622.7" x2="682.5" y2="625.9" stroke="#333" stroke-width="1"/>
<text transform="translate(682.70,631.70) scale(1,1.12)" font-size="5.3" text-anchor="middle" font-weight="normal" fill="#1a1a1a" stroke="#1a1a1a" stroke-width="0.1">Triple Negative</text>
<text transform="translate(150.00,641.70) scale(1,1.1)" font-size="7.0" text-anchor="middle" font-weight="bold" fill="#111" >Intrinsic Subtype</text>
<text transform="translate(371.70,641.70) scale(1,1.1)" font-size="7.0" text-anchor="middle" font-weight="bold" fill="#111" >Intrinsic Subtype</text>
<text transform="translate(594.00,641.70) scale(1,1.1)" font-size="7.0" text-anchor="middle" font-weight="bold" fill="#111" >Intrinsic Subtype</text>
<text x="129.30" y="451.00" font-size="6.96" text-anchor="middle" font-weight="normal" fill="#000" >All Lymph Nodes</text>
<text x="372.70" y="451.50" font-size="6.96" text-anchor="middle" font-weight="normal" fill="#000" >Nodal Negative Lymph Nodes</text>
<text x="625.70" y="451.00" font-size="6.96" text-anchor="middle" font-weight="normal" fill="#000" >Nodal Positive Lymph Nodes</text>
<text x="0" y="0" font-size="7.65" font-weight="bold" text-anchor="middle" fill="#111" transform="translate(16.1,545.3) rotate(-90)">Follicle Circularity</text>
<text transform="translate(731.10,468.10) scale(1,1.15)" font-size="6.1" text-anchor="middle" font-weight="normal" fill="#333" >Lymphnode</text>
<text transform="translate(731.10,474.10) scale(1,1.15)" font-size="6.1" text-anchor="middle" font-weight="normal" fill="#333" >Level</text>
<rect x="714.1" y="479.3" width="4.6" height="4.4" fill="#00aeef" stroke="#333" stroke-width="0.6"/>
<rect x="714.1" y="486.1" width="4.6" height="4.4" fill="#ed1c24" stroke="#333" stroke-width="0.6"/>
<text transform="translate(719.90,483.80) scale(1,1.12)" font-size="5.0" text-anchor="start" font-weight="normal" fill="#222" >Sentinel</text>
<text transform="translate(719.90,490.40) scale(1,1.12)" font-size="5.0" text-anchor="start" font-weight="normal" fill="#222" >Non Sentinel</text>
<rect x="34.7" y="682" width="673.6999999999999" height="162.70000000000005" fill="#f7f1f1"/>
<text transform="translate(40.78,702.90) scale(0.961,1)" font-size="22.09" font-weight="bold" fill="#000" stroke="#000" stroke-width="0">D</text>
<rect x="33.7" y="681" width="675.6999999999999" height="164.70000000000005" fill="none" stroke="#777777" stroke-width="1.2"/>
<line x1="49.5" y1="735.5" x2="49.5" y2="778.3" stroke="#222222" stroke-width="1"/>
<line x1="44.8" y1="735.5" x2="54.2" y2="735.5" stroke="#222222" stroke-width="1"/>
<line x1="49.5" y1="812.7" x2="49.5" y2="832.5" stroke="#222222" stroke-width="1"/>
<line x1="44.8" y1="832.5" x2="54.2" y2="832.5" stroke="#222222" stroke-width="1"/>
<rect x="40.0" y="778.3" width="18.7" height="34.4" fill="#00aeef" stroke="#222222" stroke-width="0.8"/>
<line x1="40.0" y1="799.0" x2="58.7" y2="799.0" stroke="#000" stroke-width="2"/>
<line x1="71.5" y1="713.5" x2="71.5" y2="771.3" stroke="#222222" stroke-width="1"/>
<line x1="66.9" y1="713.5" x2="76.1" y2="713.5" stroke="#222222" stroke-width="1"/>
<line x1="71.5" y1="813.3" x2="71.5" y2="819.5" stroke="#222222" stroke-width="1"/>
<line x1="66.9" y1="819.5" x2="76.1" y2="819.5" stroke="#222222" stroke-width="1"/>
<rect x="62.3" y="771.3" width="18.4" height="42.0" fill="#ed1c24" stroke="#222222" stroke-width="0.8"/>
<line x1="62.3" y1="811.0" x2="80.7" y2="811.0" stroke="#000" stroke-width="2"/>
<line x1="94.5" y1="768.5" x2="94.5" y2="789.7" stroke="#222222" stroke-width="1"/>
<line x1="89.8" y1="768.5" x2="99.2" y2="768.5" stroke="#222222" stroke-width="1"/>
<line x1="94.5" y1="812.3" x2="94.5" y2="825.5" stroke="#222222" stroke-width="1"/>
<line x1="89.8" y1="825.5" x2="99.2" y2="825.5" stroke="#222222" stroke-width="1"/>
<rect x="85.0" y="789.7" width="18.7" height="22.6" fill="#00aeef" stroke="#222222" stroke-width="0.8"/>
<line x1="85.0" y1="802.0" x2="103.7" y2="802.0" stroke="#000" stroke-width="2"/>
<line x1="116.5" y1="775.5" x2="116.5" y2="797.0" stroke="#222222" stroke-width="1"/>
<line x1="111.8" y1="775.5" x2="121.2" y2="775.5" stroke="#222222" stroke-width="1"/>
<line x1="116.5" y1="817.0" x2="116.5" y2="828.5" stroke="#222222" stroke-width="1"/>
<line x1="111.8" y1="828.5" x2="121.2" y2="828.5" stroke="#222222" stroke-width="1"/>
<rect x="106.7" y="797.0" width="18.6" height="20.0" fill="#ed1c24" stroke="#222222" stroke-width="0.8"/>
<line x1="106.7" y1="804.0" x2="125.3" y2="804.0" stroke="#000" stroke-width="2"/>
<line x1="138.5" y1="775.5" x2="138.5" y2="782.3" stroke="#222222" stroke-width="1"/>
<line x1="133.8" y1="775.5" x2="143.2" y2="775.5" stroke="#222222" stroke-width="1"/>
<line x1="138.5" y1="804.0" x2="138.5" y2="823.5" stroke="#222222" stroke-width="1"/>
<line x1="133.8" y1="823.5" x2="143.2" y2="823.5" stroke="#222222" stroke-width="1"/>
<rect x="129.3" y="782.3" width="18.7" height="21.7" fill="#00aeef" stroke="#222222" stroke-width="0.8"/>
<line x1="129.3" y1="788.0" x2="148.0" y2="788.0" stroke="#000" stroke-width="2"/>
<line x1="160.5" y1="782.5" x2="160.5" y2="790.7" stroke="#222222" stroke-width="1"/>
<line x1="155.9" y1="782.5" x2="165.1" y2="782.5" stroke="#222222" stroke-width="1"/>
<line x1="160.5" y1="819.7" x2="160.5" y2="830.5" stroke="#222222" stroke-width="1"/>
<line x1="155.9" y1="830.5" x2="165.1" y2="830.5" stroke="#222222" stroke-width="1"/>
<rect x="151.3" y="790.7" width="18.4" height="29.0" fill="#ed1c24" stroke="#222222" stroke-width="0.8"/>
<line x1="151.3" y1="808.0" x2="169.7" y2="808.0" stroke="#000" stroke-width="2"/>
<line x1="183.5" y1="811.3" x2="183.5" y2="813.5" stroke="#222222" stroke-width="1"/>
<line x1="178.9" y1="813.5" x2="188.1" y2="813.5" stroke="#222222" stroke-width="1"/>
<rect x="174.0" y="803.3" width="18.3" height="8.0" fill="#00aeef" stroke="#222222" stroke-width="0.8"/>
<line x1="174.0" y1="811.0" x2="192.3" y2="811.0" stroke="#000" stroke-width="2"/>
<line x1="204.5" y1="790.5" x2="204.5" y2="802.3" stroke="#222222" stroke-width="1"/>
<line x1="199.9" y1="790.5" x2="209.1" y2="790.5" stroke="#222222" stroke-width="1"/>
<line x1="204.5" y1="814.0" x2="204.5" y2="820.5" stroke="#222222" stroke-width="1"/>
<line x1="199.9" y1="820.5" x2="209.1" y2="820.5" stroke="#222222" stroke-width="1"/>
<rect x="195.7" y="802.3" width="18.3" height="11.7" fill="#ed1c24" stroke="#222222" stroke-width="0.8"/>
<line x1="195.7" y1="812.0" x2="214.0" y2="812.0" stroke="#000" stroke-width="2"/>
<line x1="227.5" y1="746.5" x2="227.5" y2="781.7" stroke="#222222" stroke-width="1"/>
<line x1="222.9" y1="746.5" x2="232.1" y2="746.5" stroke="#222222" stroke-width="1"/>
<line x1="227.5" y1="809.3" x2="227.5" y2="820.5" stroke="#222222" stroke-width="1"/>
<line x1="222.9" y1="820.5" x2="232.1" y2="820.5" stroke="#222222" stroke-width="1"/>
<rect x="218.7" y="781.7" width="18.3" height="27.6" fill="#00aeef" stroke="#222222" stroke-width="0.8"/>
<line x1="218.7" y1="797.0" x2="237.0" y2="797.0" stroke="#000" stroke-width="2"/>
<line x1="249.5" y1="778.5" x2="249.5" y2="796.7" stroke="#222222" stroke-width="1"/>
<line x1="244.9" y1="778.5" x2="254.1" y2="778.5" stroke="#222222" stroke-width="1"/>
<line x1="249.5" y1="812.3" x2="249.5" y2="822.5" stroke="#222222" stroke-width="1"/>
<line x1="244.9" y1="822.5" x2="254.1" y2="822.5" stroke="#222222" stroke-width="1"/>
<rect x="240.3" y="796.7" width="18.4" height="15.6" fill="#ed1c24" stroke="#222222" stroke-width="0.8"/>
<line x1="240.3" y1="804.0" x2="258.7" y2="804.0" stroke="#000" stroke-width="2"/>
<line x1="275.5" y1="735.5" x2="275.5" y2="780.3" stroke="#222222" stroke-width="1"/>
<line x1="270.9" y1="735.5" x2="280.1" y2="735.5" stroke="#222222" stroke-width="1"/>
<line x1="275.5" y1="812.7" x2="275.5" y2="832.5" stroke="#222222" stroke-width="1"/>
<line x1="270.9" y1="832.5" x2="280.1" y2="832.5" stroke="#222222" stroke-width="1"/>
<rect x="266.3" y="780.3" width="18.4" height="32.4" fill="#00aeef" stroke="#222222" stroke-width="0.8"/>
<line x1="266.3" y1="800.0" x2="284.7" y2="800.0" stroke="#000" stroke-width="2"/>
<line x1="296.5" y1="713.5" x2="296.5" y2="754.0" stroke="#222222" stroke-width="1"/>
<line x1="292.0" y1="713.5" x2="301.0" y2="713.5" stroke="#222222" stroke-width="1"/>
<line x1="296.5" y1="818.3" x2="296.5" y2="819.5" stroke="#222222" stroke-width="1"/>
<line x1="292.0" y1="819.5" x2="301.0" y2="819.5" stroke="#222222" stroke-width="1"/>
<rect x="287.7" y="754.0" width="18.0" height="64.3" fill="#ed1c24" stroke="#222222" stroke-width="0.8"/>
<line x1="287.7" y1="801.0" x2="305.7" y2="801.0" stroke="#000" stroke-width="2"/>
<line x1="318.5" y1="768.5" x2="318.5" y2="788.7" stroke="#222222" stroke-width="1"/>
<line x1="313.9" y1="768.5" x2="323.1" y2="768.5" stroke="#222222" stroke-width="1"/>
<line x1="318.5" y1="812.0" x2="318.5" y2="825.5" stroke="#222222" stroke-width="1"/>
<line x1="313.9" y1="825.5" x2="323.1" y2="825.5" stroke="#222222" stroke-width="1"/>
<rect x="309.3" y="788.7" width="18.4" height="23.3" fill="#00aeef" stroke="#222222" stroke-width="0.8"/>
<line x1="309.3" y1="801.0" x2="327.7" y2="801.0" stroke="#000" stroke-width="2"/>
<line x1="339.5" y1="775.5" x2="339.5" y2="795.7" stroke="#222222" stroke-width="1"/>
<line x1="335.0" y1="775.5" x2="344.0" y2="775.5" stroke="#222222" stroke-width="1"/>
<line x1="339.5" y1="822.0" x2="339.5" y2="827.5" stroke="#222222" stroke-width="1"/>
<line x1="335.0" y1="827.5" x2="344.0" y2="827.5" stroke="#222222" stroke-width="1"/>
<rect x="330.7" y="795.7" width="18.0" height="26.3" fill="#ed1c24" stroke="#222222" stroke-width="0.8"/>
<line x1="330.7" y1="810.0" x2="348.7" y2="810.0" stroke="#000" stroke-width="2"/>
<line x1="361.5" y1="775.5" x2="361.5" y2="779.2" stroke="#222222" stroke-width="1"/>
<line x1="356.9" y1="775.5" x2="366.1" y2="775.5" stroke="#222222" stroke-width="1"/>
<line x1="361.5" y1="805.7" x2="361.5" y2="823.5" stroke="#222222" stroke-width="1"/>
<line x1="356.9" y1="823.5" x2="366.1" y2="823.5" stroke="#222222" stroke-width="1"/>
<rect x="352.3" y="779.2" width="18.4" height="26.5" fill="#00aeef" stroke="#222222" stroke-width="0.8"/>
<line x1="352.3" y1="786.0" x2="370.7" y2="786.0" stroke="#000" stroke-width="2"/>
<line x1="382.5" y1="782.5" x2="382.5" y2="788.0" stroke="#222222" stroke-width="1"/>
<line x1="377.9" y1="782.5" x2="387.1" y2="782.5" stroke="#222222" stroke-width="1"/>
<line x1="382.5" y1="821.0" x2="382.5" y2="823.5" stroke="#222222" stroke-width="1"/>
<line x1="377.9" y1="823.5" x2="387.1" y2="823.5" stroke="#222222" stroke-width="1"/>
<rect x="373.7" y="788.0" width="18.3" height="33.0" fill="#ed1c24" stroke="#222222" stroke-width="0.8"/>
<line x1="373.7" y1="821.0" x2="392.0" y2="821.0" stroke="#000" stroke-width="2"/>
<line x1="404.5" y1="812.3" x2="404.5" y2="813.5" stroke="#222222" stroke-width="1"/>
<line x1="400.0" y1="813.5" x2="409.0" y2="813.5" stroke="#222222" stroke-width="1"/>
<rect x="395.7" y="803.0" width="18.0" height="9.3" fill="#00aeef" stroke="#222222" stroke-width="0.8"/>
<line x1="395.7" y1="811.0" x2="413.7" y2="811.0" stroke="#000" stroke-width="2"/>
<line x1="425.5" y1="803.5" x2="425.5" y2="807.2" stroke="#222222" stroke-width="1"/>
<line x1="421.0" y1="803.5" x2="430.0" y2="803.5" stroke="#222222" stroke-width="1"/>
<line x1="425.5" y1="811.9" x2="425.5" y2="813.5" stroke="#222222" stroke-width="1"/>
<line x1="421.0" y1="813.5" x2="430.0" y2="813.5" stroke="#222222" stroke-width="1"/>
<rect x="416.7" y="807.2" width="18.0" height="4.7" fill="#ed1c24" stroke="#222222" stroke-width="0.8"/>
<line x1="416.7" y1="811.0" x2="434.7" y2="811.0" stroke="#000" stroke-width="2"/>
<line x1="447.5" y1="746.5" x2="447.5" y2="780.3" stroke="#222222" stroke-width="1"/>
<line x1="442.9" y1="746.5" x2="452.1" y2="746.5" stroke="#222222" stroke-width="1"/>
<line x1="447.5" y1="804.0" x2="447.5" y2="820.5" stroke="#222222" stroke-width="1"/>
<line x1="442.9" y1="820.5" x2="452.1" y2="820.5" stroke="#222222" stroke-width="1"/>
<rect x="438.0" y="780.3" width="18.3" height="23.7" fill="#00aeef" stroke="#222222" stroke-width="0.8"/>
<line x1="438.0" y1="794.0" x2="456.3" y2="794.0" stroke="#000" stroke-width="2"/>
<line x1="468.5" y1="793.5" x2="468.5" y2="797.0" stroke="#222222" stroke-width="1"/>
<line x1="464.0" y1="793.5" x2="473.0" y2="793.5" stroke="#222222" stroke-width="1"/>
<line x1="468.5" y1="812.3" x2="468.5" y2="814.5" stroke="#222222" stroke-width="1"/>
<line x1="464.0" y1="814.5" x2="473.0" y2="814.5" stroke="#222222" stroke-width="1"/>
<rect x="459.3" y="797.0" width="18.0" height="15.3" fill="#ed1c24" stroke="#222222" stroke-width="0.8"/>
<line x1="459.3" y1="801.0" x2="477.3" y2="801.0" stroke="#000" stroke-width="2"/>
<line x1="493.5" y1="758.5" x2="493.5" y2="774.7" stroke="#222222" stroke-width="1"/>
<line x1="488.8" y1="758.5" x2="498.2" y2="758.5" stroke="#222222" stroke-width="1"/>
<line x1="493.5" y1="810.3" x2="493.5" y2="818.5" stroke="#222222" stroke-width="1"/>
<line x1="488.8" y1="818.5" x2="498.2" y2="818.5" stroke="#222222" stroke-width="1"/>
<rect x="484.3" y="774.7" width="19.0" height="35.6" fill="#00aeef" stroke="#222222" stroke-width="0.8"/>
<line x1="484.3" y1="786.0" x2="503.3" y2="786.0" stroke="#000" stroke-width="2"/>
<rect x="506.3" y="810.6" width="18.7" height="3.2" fill="#ed1c24" stroke="#222222" stroke-width="0.8"/>
<line x1="506.3" y1="812.2" x2="525.0" y2="812.2" stroke="#000" stroke-width="1.4"/>
<line x1="538.5" y1="781.5" x2="538.5" y2="791.0" stroke="#222222" stroke-width="1"/>
<line x1="533.9" y1="781.5" x2="543.1" y2="781.5" stroke="#222222" stroke-width="1"/>
<line x1="538.5" y1="812.3" x2="538.5" y2="822.5" stroke="#222222" stroke-width="1"/>
<line x1="533.9" y1="822.5" x2="543.1" y2="822.5" stroke="#222222" stroke-width="1"/>
<rect x="529.3" y="791.0" width="18.4" height="21.3" fill="#00aeef" stroke="#222222" stroke-width="0.8"/>
<line x1="529.3" y1="803.0" x2="547.7" y2="803.0" stroke="#000" stroke-width="2"/>
<line x1="560.5" y1="787.5" x2="560.5" y2="798.0" stroke="#222222" stroke-width="1"/>
<line x1="555.8" y1="787.5" x2="565.2" y2="787.5" stroke="#222222" stroke-width="1"/>
<line x1="560.5" y1="813.3" x2="560.5" y2="828.5" stroke="#222222" stroke-width="1"/>
<line x1="555.8" y1="828.5" x2="565.2" y2="828.5" stroke="#222222" stroke-width="1"/>
<rect x="551.0" y="798.0" width="18.7" height="15.3" fill="#ed1c24" stroke="#222222" stroke-width="0.8"/>
<line x1="551.0" y1="804.0" x2="569.7" y2="804.0" stroke="#000" stroke-width="2"/>
<line x1="583.5" y1="782.5" x2="583.5" y2="791.3" stroke="#222222" stroke-width="1"/>
<line x1="578.9" y1="782.5" x2="588.1" y2="782.5" stroke="#222222" stroke-width="1"/>
<line x1="583.5" y1="804.0" x2="583.5" y2="807.5" stroke="#222222" stroke-width="1"/>
<line x1="578.9" y1="807.5" x2="588.1" y2="807.5" stroke="#222222" stroke-width="1"/>
<rect x="573.7" y="791.3" width="18.6" height="12.7" fill="#00aeef" stroke="#222222" stroke-width="0.8"/>
<line x1="573.7" y1="800.0" x2="592.3" y2="800.0" stroke="#000" stroke-width="2"/>
<line x1="604.5" y1="782.5" x2="604.5" y2="790.7" stroke="#222222" stroke-width="1"/>
<line x1="599.8" y1="782.5" x2="609.2" y2="782.5" stroke="#222222" stroke-width="1"/>
<line x1="604.5" y1="816.0" x2="604.5" y2="830.5" stroke="#222222" stroke-width="1"/>
<line x1="599.8" y1="830.5" x2="609.2" y2="830.5" stroke="#222222" stroke-width="1"/>
<rect x="595.3" y="790.7" width="18.7" height="25.3" fill="#ed1c24" stroke="#222222" stroke-width="0.8"/>
<line x1="595.3" y1="804.0" x2="614.0" y2="804.0" stroke="#000" stroke-width="2"/>
<line x1="649.5" y1="790.5" x2="649.5" y2="802.0" stroke="#222222" stroke-width="1"/>
<line x1="644.9" y1="790.5" x2="654.1" y2="790.5" stroke="#222222" stroke-width="1"/>
<line x1="649.5" y1="817.3" x2="649.5" y2="820.5" stroke="#222222" stroke-width="1"/>
<line x1="644.9" y1="820.5" x2="654.1" y2="820.5" stroke="#222222" stroke-width="1"/>
<rect x="640.3" y="802.0" width="18.4" height="15.3" fill="#ed1c24" stroke="#222222" stroke-width="0.8"/>
<line x1="640.3" y1="814.0" x2="658.7" y2="814.0" stroke="#000" stroke-width="2"/>
<line x1="672.5" y1="780.5" x2="672.5" y2="795.3" stroke="#222222" stroke-width="1"/>
<line x1="667.9" y1="780.5" x2="677.1" y2="780.5" stroke="#222222" stroke-width="1"/>
<line x1="672.5" y1="810.3" x2="672.5" y2="812.5" stroke="#222222" stroke-width="1"/>
<line x1="667.9" y1="812.5" x2="677.1" y2="812.5" stroke="#222222" stroke-width="1"/>
<rect x="662.7" y="795.3" width="18.6" height="15.0" fill="#00aeef" stroke="#222222" stroke-width="0.8"/>
<line x1="662.7" y1="804.0" x2="681.3" y2="804.0" stroke="#000" stroke-width="2"/>
<line x1="693.5" y1="778.5" x2="693.5" y2="790.3" stroke="#222222" stroke-width="1"/>
<line x1="688.8" y1="778.5" x2="698.2" y2="778.5" stroke="#222222" stroke-width="1"/>
<line x1="693.5" y1="811.7" x2="693.5" y2="822.5" stroke="#222222" stroke-width="1"/>
<line x1="688.8" y1="822.5" x2="698.2" y2="822.5" stroke="#222222" stroke-width="1"/>
<rect x="684.3" y="790.3" width="18.7" height="21.4" fill="#ed1c24" stroke="#222222" stroke-width="0.8"/>
<line x1="684.3" y1="804.0" x2="703.0" y2="804.0" stroke="#000" stroke-width="2"/>
<circle cx="49.3" cy="713.3" r="2.0" fill="none" stroke="#00aeef" stroke-width="1"/>
<circle cx="94.0" cy="728.7" r="2.0" fill="none" stroke="#00aeef" stroke-width="1"/>
<circle cx="94.0" cy="744.0" r="2.0" fill="none" stroke="#00aeef" stroke-width="1"/>
<circle cx="94.0" cy="746.7" r="2.0" fill="none" stroke="#00aeef" stroke-width="1"/>
<circle cx="115.7" cy="744.3" r="2.0" fill="none" stroke="#ed1c24" stroke-width="1"/>
<polygon points="183.00,757.10 183.76,758.65 185.47,758.90 184.24,760.10 184.53,761.80 183.00,761.00 181.47,761.80 181.76,760.10 180.53,758.90 182.24,758.65" fill="#00aeef"/>
<circle cx="228.0" cy="730.0" r="2.0" fill="none" stroke="#00aeef" stroke-width="1"/>
<circle cx="275.7" cy="713.3" r="2.0" fill="none" stroke="#00aeef" stroke-width="1"/>
<circle cx="318.3" cy="728.7" r="2.0" fill="none" stroke="#00aeef" stroke-width="1"/>
<circle cx="318.3" cy="744.3" r="2.0" fill="none" stroke="#00aeef" stroke-width="1"/>
<circle cx="339.3" cy="744.3" r="2.0" fill="none" stroke="#ed1c24" stroke-width="1"/>
<polygon points="404.30,757.10 405.06,758.65 406.77,758.90 405.54,760.10 405.83,761.80 404.30,761.00 402.77,761.80 403.06,760.10 401.83,758.90 403.54,758.65" fill="#00aeef"/>
<circle cx="447.3" cy="730.0" r="2.0" fill="none" stroke="#00aeef" stroke-width="1"/>
<polygon points="515.30,755.70 516.06,757.25 517.77,757.50 516.54,758.70 516.83,760.40 515.30,759.60 513.77,760.40 514.06,758.70 512.83,757.50 514.54,757.25" fill="#ed1c24"/>
<polygon points="515.30,768.70 516.06,770.25 517.77,770.50 516.54,771.70 516.83,773.40 515.30,772.60 513.77,773.40 514.06,771.70 512.83,770.50 514.54,770.25" fill="#ed1c24"/>
<circle cx="515.3" cy="818.7" r="2.0" fill="none" stroke="#ed1c24" stroke-width="1"/>
<circle cx="538.3" cy="728.7" r="2.0" fill="none" stroke="#00aeef" stroke-width="1"/>
<circle cx="538.3" cy="746.7" r="2.0" fill="none" stroke="#00aeef" stroke-width="1"/>
<line x1="30.2" y1="681.0" x2="33.7" y2="681.0" stroke="#777777" stroke-width="0.8"/>
<text transform="translate(29.90,683.30) scale(1,1.12)" font-size="5.2" text-anchor="end" font-weight="normal" fill="#222" >1,40</text>
<line x1="30.2" y1="722.2" x2="33.7" y2="722.2" stroke="#777777" stroke-width="0.8"/>
<text transform="translate(29.90,724.50) scale(1,1.12)" font-size="5.2" text-anchor="end" font-weight="normal" fill="#222" >1,30</text>
<line x1="30.2" y1="763.4" x2="33.7" y2="763.4" stroke="#777777" stroke-width="0.8"/>
<text transform="translate(29.90,765.70) scale(1,1.12)" font-size="5.2" text-anchor="end" font-weight="normal" fill="#222" >1,20</text>
<line x1="30.2" y1="804.5" x2="33.7" y2="804.5" stroke="#777777" stroke-width="0.8"/>
<text transform="translate(29.90,806.80) scale(1,1.12)" font-size="5.2" text-anchor="end" font-weight="normal" fill="#222" >1,10</text>
<line x1="30.2" y1="845.7" x2="33.7" y2="845.7" stroke="#777777" stroke-width="0.8"/>
<text transform="translate(29.90,848.00) scale(1,1.12)" font-size="5.2" text-anchor="end" font-weight="normal" fill="#222" >1,00</text>
<line x1="60.5" y1="845.7" x2="60.5" y2="848.9" stroke="#333" stroke-width="1"/>
<text transform="translate(60.00,854.70) scale(1,1.12)" font-size="5.3" text-anchor="middle" font-weight="normal" fill="#1a1a1a" stroke="#1a1a1a" stroke-width="0.1">Luminal A</text>
<line x1="104.5" y1="845.7" x2="104.5" y2="848.9" stroke="#333" stroke-width="1"/>
<text transform="translate(104.30,854.70) scale(1,1.12)" font-size="5.3" text-anchor="middle" font-weight="normal" fill="#1a1a1a" stroke="#1a1a1a" stroke-width="0.1">Luminal B</text>
<line x1="149.5" y1="845.7" x2="149.5" y2="848.9" stroke="#333" stroke-width="1"/>
<text transform="translate(149.30,854.70) scale(1,1.12)" font-size="5.3" text-anchor="middle" font-weight="normal" fill="#1a1a1a" stroke="#1a1a1a" stroke-width="0.1">Luminal Her2</text>
<line x1="194.5" y1="845.7" x2="194.5" y2="848.9" stroke="#333" stroke-width="1"/>
<text transform="translate(194.00,854.70) scale(1,1.12)" font-size="5.3" text-anchor="middle" font-weight="normal" fill="#1a1a1a" stroke="#1a1a1a" stroke-width="0.1">Her2 Enriched</text>
<line x1="239.5" y1="845.7" x2="239.5" y2="848.9" stroke="#333" stroke-width="1"/>
<text transform="translate(239.00,854.70) scale(1,1.12)" font-size="5.3" text-anchor="middle" font-weight="normal" fill="#1a1a1a" stroke="#1a1a1a" stroke-width="0.1">Triple Negative</text>
<line x1="285.5" y1="845.7" x2="285.5" y2="848.9" stroke="#333" stroke-width="1"/>
<text transform="translate(285.70,854.70) scale(1,1.12)" font-size="5.3" text-anchor="middle" font-weight="normal" fill="#1a1a1a" stroke="#1a1a1a" stroke-width="0.1">Luminal A</text>
<line x1="329.5" y1="845.7" x2="329.5" y2="848.9" stroke="#333" stroke-width="1"/>
<text transform="translate(329.30,854.70) scale(1,1.12)" font-size="5.3" text-anchor="middle" font-weight="normal" fill="#1a1a1a" stroke="#1a1a1a" stroke-width="0.1">Luminal B</text>
<line x1="372.5" y1="845.7" x2="372.5" y2="848.9" stroke="#333" stroke-width="1"/>
<text transform="translate(372.30,854.70) scale(1,1.12)" font-size="5.3" text-anchor="middle" font-weight="normal" fill="#1a1a1a" stroke="#1a1a1a" stroke-width="0.1">Luminal Her2</text>
<line x1="414.5" y1="845.7" x2="414.5" y2="848.9" stroke="#333" stroke-width="1"/>
<text transform="translate(414.70,854.70) scale(1,1.12)" font-size="5.3" text-anchor="middle" font-weight="normal" fill="#1a1a1a" stroke="#1a1a1a" stroke-width="0.1">Her2 Enriched</text>
<line x1="457.5" y1="845.7" x2="457.5" y2="848.9" stroke="#333" stroke-width="1"/>
<text transform="translate(457.70,854.70) scale(1,1.12)" font-size="5.3" text-anchor="middle" font-weight="normal" fill="#1a1a1a" stroke="#1a1a1a" stroke-width="0.1">Triple Negative</text>
<line x1="504.5" y1="845.7" x2="504.5" y2="848.9" stroke="#333" stroke-width="1"/>
<text transform="translate(504.00,854.70) scale(1,1.12)" font-size="5.3" text-anchor="middle" font-weight="normal" fill="#1a1a1a" stroke="#1a1a1a" stroke-width="0.1">Luminal A</text>
<line x1="548.5" y1="845.7" x2="548.5" y2="848.9" stroke="#333" stroke-width="1"/>
<text transform="translate(548.70,854.70) scale(1,1.12)" font-size="5.3" text-anchor="middle" font-weight="normal" fill="#1a1a1a" stroke="#1a1a1a" stroke-width="0.1">Luminal B</text>
<line x1="593.5" y1="845.7" x2="593.5" y2="848.9" stroke="#333" stroke-width="1"/>
<text transform="translate(593.30,854.70) scale(1,1.12)" font-size="5.3" text-anchor="middle" font-weight="normal" fill="#1a1a1a" stroke="#1a1a1a" stroke-width="0.1">Luminal Her2</text>
<line x1="638.5" y1="845.7" x2="638.5" y2="848.9" stroke="#333" stroke-width="1"/>
<text transform="translate(638.30,854.70) scale(1,1.12)" font-size="5.3" text-anchor="middle" font-weight="normal" fill="#1a1a1a" stroke="#1a1a1a" stroke-width="0.1">Her2 Enriched</text>
<line x1="682.5" y1="845.7" x2="682.5" y2="848.9" stroke="#333" stroke-width="1"/>
<text transform="translate(682.70,854.70) scale(1,1.12)" font-size="5.3" text-anchor="middle" font-weight="normal" fill="#1a1a1a" stroke="#1a1a1a" stroke-width="0.1">Triple Negative</text>
<text transform="translate(149.30,864.00) scale(1,1.1)" font-size="7.0" text-anchor="middle" font-weight="bold" fill="#111" >Intrinsic Subtype</text>
<text transform="translate(372.30,864.00) scale(1,1.1)" font-size="7.0" text-anchor="middle" font-weight="bold" fill="#111" >Intrinsic Subtype</text>
<text transform="translate(593.70,864.00) scale(1,1.1)" font-size="7.0" text-anchor="middle" font-weight="bold" fill="#111" >Intrinsic Subtype</text>
<text x="159.20" y="673.90" font-size="6.76" text-anchor="middle" font-weight="normal" fill="#000" >All Lymph Nodes</text>
<text x="374.30" y="672.20" font-size="6.76" text-anchor="middle" font-weight="normal" fill="#000" >Nodal Negative Lymph Nodes</text>
<text x="615.00" y="672.20" font-size="6.76" text-anchor="middle" font-weight="normal" fill="#000" >Nodal Positive Lymph Nodes</text>
<text x="0" y="0" font-size="7.8" font-weight="bold" text-anchor="middle" fill="#111" transform="translate(15.6,767.4) rotate(-90)">Germinal Center Circularity</text>
<text transform="translate(730.70,693.00) scale(1,1.15)" font-size="6.1" text-anchor="middle" font-weight="normal" fill="#333" >Lymphnode</text>
<text transform="translate(730.70,699.00) scale(1,1.15)" font-size="6.1" text-anchor="middle" font-weight="normal" fill="#333" >Level</text>
<rect x="713.7" y="704.2" width="4.6" height="4.4" fill="#00aeef" stroke="#333" stroke-width="0.6"/>
<rect x="713.7" y="711.0" width="4.6" height="4.4" fill="#ed1c24" stroke="#333" stroke-width="0.6"/>
<text transform="translate(719.50,708.70) scale(1,1.12)" font-size="5.0" text-anchor="start" font-weight="normal" fill="#222" >Sentinel</text>
<text transform="translate(719.50,715.30) scale(1,1.12)" font-size="5.0" text-anchor="start" font-weight="normal" fill="#222" >Non Sentinel</text>
</svg>
</body></html>
